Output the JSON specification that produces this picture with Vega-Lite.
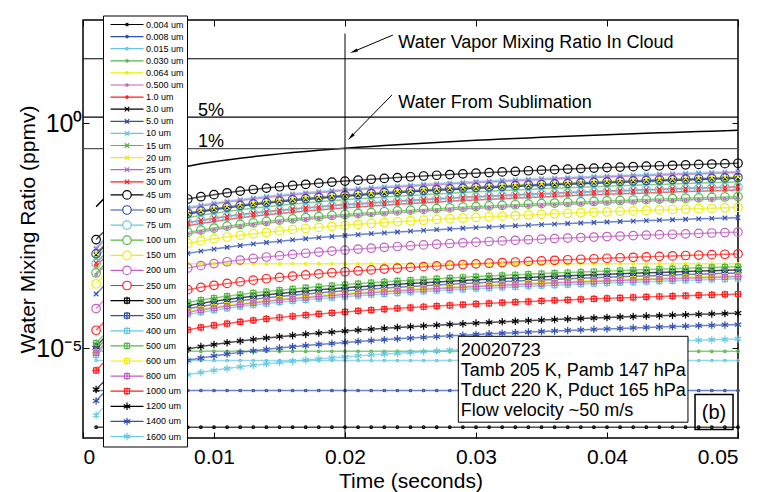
{
"$schema":"https://vega.github.io/schema/vega-lite/v6.json",
"width":655,"height":418,
"autosize":{"type":"none"},
"padding":{"left":83,"top":20,"right":23,"bottom":54},
"config":{"font":"Liberation Sans","view":{"stroke":"black","strokeWidth":1.5},
"axis":{"grid":false,"domain":false,"labelColor":"black","titleColor":"black","tickColor":"black","labelFont":"Liberation Sans","titleFont":"Liberation Sans","titleFontWeight":"normal"}},
"resolve":{"scale":{"color":"independent","shape":"independent"}},
"datasets":{
"main":[
{"s":"0.004 um","t":0.001,"v":1.74e-7},{"s":"0.004 um","t":0.002,"v":1.74e-7},{"s":"0.004 um","t":0.003,"v":1.74e-7},{"s":"0.004 um","t":0.004,"v":1.74e-7},{"s":"0.004 um","t":0.005,"v":1.74e-7},{"s":"0.004 um","t":0.006,"v":1.74e-7},{"s":"0.004 um","t":0.007,"v":1.74e-7},{"s":"0.004 um","t":0.008,"v":1.74e-7},{"s":"0.004 um","t":0.009,"v":1.74e-7},{"s":"0.004 um","t":0.01,"v":1.74e-7},{"s":"0.004 um","t":0.011,"v":1.74e-7},{"s":"0.004 um","t":0.012,"v":1.74e-7},{"s":"0.004 um","t":0.013,"v":1.74e-7},{"s":"0.004 um","t":0.014,"v":1.74e-7},{"s":"0.004 um","t":0.015,"v":1.74e-7},{"s":"0.004 um","t":0.016,"v":1.74e-7},{"s":"0.004 um","t":0.017,"v":1.74e-7},{"s":"0.004 um","t":0.018,"v":1.74e-7},{"s":"0.004 um","t":0.019,"v":1.74e-7},{"s":"0.004 um","t":0.02,"v":1.74e-7},{"s":"0.004 um","t":0.021,"v":1.74e-7},{"s":"0.004 um","t":0.022,"v":1.74e-7},{"s":"0.004 um","t":0.023,"v":1.74e-7},{"s":"0.004 um","t":0.024,"v":1.74e-7},{"s":"0.004 um","t":0.025,"v":1.74e-7},{"s":"0.004 um","t":0.026,"v":1.74e-7},{"s":"0.004 um","t":0.027,"v":1.74e-7},{"s":"0.004 um","t":0.028,"v":1.74e-7},{"s":"0.004 um","t":0.029,"v":1.74e-7},{"s":"0.004 um","t":0.03,"v":1.74e-7},{"s":"0.004 um","t":0.031,"v":1.74e-7},{"s":"0.004 um","t":0.032,"v":1.74e-7},{"s":"0.004 um","t":0.033,"v":1.74e-7},{"s":"0.004 um","t":0.034,"v":1.74e-7},{"s":"0.004 um","t":0.035,"v":1.74e-7},{"s":"0.004 um","t":0.036,"v":1.74e-7},{"s":"0.004 um","t":0.037,"v":1.74e-7},{"s":"0.004 um","t":0.038,"v":1.74e-7},{"s":"0.004 um","t":0.039,"v":1.74e-7},{"s":"0.004 um","t":0.04,"v":1.74e-7},{"s":"0.004 um","t":0.041,"v":1.74e-7},{"s":"0.004 um","t":0.042,"v":1.74e-7},{"s":"0.004 um","t":0.043,"v":1.74e-7},{"s":"0.004 um","t":0.044,"v":1.74e-7},{"s":"0.004 um","t":0.045,"v":1.74e-7},{"s":"0.004 um","t":0.046,"v":1.74e-7},{"s":"0.004 um","t":0.047,"v":1.74e-7},{"s":"0.004 um","t":0.048,"v":1.74e-7},{"s":"0.004 um","t":0.049,"v":1.74e-7},{"s":"0.004 um","t":0.05,"v":1.74e-7},
{"s":"0.008 um","t":0.001,"v":1.14e-6},{"s":"0.008 um","t":0.002,"v":1.14e-6},{"s":"0.008 um","t":0.003,"v":1.14e-6},{"s":"0.008 um","t":0.004,"v":1.14e-6},{"s":"0.008 um","t":0.005,"v":1.14e-6},{"s":"0.008 um","t":0.006,"v":1.14e-6},{"s":"0.008 um","t":0.007,"v":1.14e-6},{"s":"0.008 um","t":0.008,"v":1.14e-6},{"s":"0.008 um","t":0.009,"v":1.14e-6},{"s":"0.008 um","t":0.01,"v":1.14e-6},{"s":"0.008 um","t":0.011,"v":1.14e-6},{"s":"0.008 um","t":0.012,"v":1.14e-6},{"s":"0.008 um","t":0.013,"v":1.14e-6},{"s":"0.008 um","t":0.014,"v":1.14e-6},{"s":"0.008 um","t":0.015,"v":1.14e-6},{"s":"0.008 um","t":0.016,"v":1.14e-6},{"s":"0.008 um","t":0.017,"v":1.14e-6},{"s":"0.008 um","t":0.018,"v":1.14e-6},{"s":"0.008 um","t":0.019,"v":1.14e-6},{"s":"0.008 um","t":0.02,"v":1.14e-6},{"s":"0.008 um","t":0.021,"v":1.14e-6},{"s":"0.008 um","t":0.022,"v":1.14e-6},{"s":"0.008 um","t":0.023,"v":1.14e-6},{"s":"0.008 um","t":0.024,"v":1.14e-6},{"s":"0.008 um","t":0.025,"v":1.14e-6},{"s":"0.008 um","t":0.026,"v":1.14e-6},{"s":"0.008 um","t":0.027,"v":1.14e-6},{"s":"0.008 um","t":0.028,"v":1.14e-6},{"s":"0.008 um","t":0.029,"v":1.14e-6},{"s":"0.008 um","t":0.03,"v":1.14e-6},{"s":"0.008 um","t":0.031,"v":1.14e-6},{"s":"0.008 um","t":0.032,"v":1.14e-6},{"s":"0.008 um","t":0.033,"v":1.14e-6},{"s":"0.008 um","t":0.034,"v":1.14e-6},{"s":"0.008 um","t":0.035,"v":1.14e-6},{"s":"0.008 um","t":0.036,"v":1.14e-6},{"s":"0.008 um","t":0.037,"v":1.14e-6},{"s":"0.008 um","t":0.038,"v":1.14e-6},{"s":"0.008 um","t":0.039,"v":1.14e-6},{"s":"0.008 um","t":0.04,"v":1.14e-6},{"s":"0.008 um","t":0.041,"v":1.14e-6},{"s":"0.008 um","t":0.042,"v":1.14e-6},{"s":"0.008 um","t":0.043,"v":1.14e-6},{"s":"0.008 um","t":0.044,"v":1.14e-6},{"s":"0.008 um","t":0.045,"v":1.14e-6},{"s":"0.008 um","t":0.046,"v":1.14e-6},{"s":"0.008 um","t":0.047,"v":1.14e-6},{"s":"0.008 um","t":0.048,"v":1.14e-6},{"s":"0.008 um","t":0.049,"v":1.14e-6},{"s":"0.008 um","t":0.05,"v":1.14e-6},
{"s":"0.015 um","t":0.001,"v":5.3e-6},{"s":"0.015 um","t":0.002,"v":5.3e-6},{"s":"0.015 um","t":0.003,"v":5.3e-6},{"s":"0.015 um","t":0.004,"v":5.3e-6},{"s":"0.015 um","t":0.005,"v":5.3e-6},{"s":"0.015 um","t":0.006,"v":5.3e-6},{"s":"0.015 um","t":0.007,"v":5.3e-6},{"s":"0.015 um","t":0.008,"v":5.3e-6},{"s":"0.015 um","t":0.009,"v":5.3e-6},{"s":"0.015 um","t":0.01,"v":5.3e-6},{"s":"0.015 um","t":0.011,"v":5.3e-6},{"s":"0.015 um","t":0.012,"v":5.3e-6},{"s":"0.015 um","t":0.013,"v":5.3e-6},{"s":"0.015 um","t":0.014,"v":5.3e-6},{"s":"0.015 um","t":0.015,"v":5.3e-6},{"s":"0.015 um","t":0.016,"v":5.3e-6},{"s":"0.015 um","t":0.017,"v":5.3e-6},{"s":"0.015 um","t":0.018,"v":5.3e-6},{"s":"0.015 um","t":0.019,"v":5.3e-6},{"s":"0.015 um","t":0.02,"v":5.3e-6},{"s":"0.015 um","t":0.021,"v":5.3e-6},{"s":"0.015 um","t":0.022,"v":5.3e-6},{"s":"0.015 um","t":0.023,"v":5.3e-6},{"s":"0.015 um","t":0.024,"v":5.3e-6},{"s":"0.015 um","t":0.025,"v":5.3e-6},{"s":"0.015 um","t":0.026,"v":5.3e-6},{"s":"0.015 um","t":0.027,"v":5.3e-6},{"s":"0.015 um","t":0.028,"v":5.3e-6},{"s":"0.015 um","t":0.029,"v":5.3e-6},{"s":"0.015 um","t":0.03,"v":5.3e-6},{"s":"0.015 um","t":0.031,"v":5.3e-6},{"s":"0.015 um","t":0.032,"v":5.3e-6},{"s":"0.015 um","t":0.033,"v":5.3e-6},{"s":"0.015 um","t":0.034,"v":5.3e-6},{"s":"0.015 um","t":0.035,"v":5.3e-6},{"s":"0.015 um","t":0.036,"v":5.3e-6},{"s":"0.015 um","t":0.037,"v":5.3e-6},{"s":"0.015 um","t":0.038,"v":5.3e-6},{"s":"0.015 um","t":0.039,"v":5.3e-6},{"s":"0.015 um","t":0.04,"v":5.3e-6},{"s":"0.015 um","t":0.041,"v":5.3e-6},{"s":"0.015 um","t":0.042,"v":5.3e-6},{"s":"0.015 um","t":0.043,"v":5.3e-6},{"s":"0.015 um","t":0.044,"v":5.3e-6},{"s":"0.015 um","t":0.045,"v":5.3e-6},{"s":"0.015 um","t":0.046,"v":5.3e-6},{"s":"0.015 um","t":0.047,"v":5.3e-6},{"s":"0.015 um","t":0.048,"v":5.3e-6},{"s":"0.015 um","t":0.049,"v":5.3e-6},{"s":"0.015 um","t":0.05,"v":5.3e-6},
{"s":"0.030 um","t":0.001,"v":8.5e-6},{"s":"0.030 um","t":0.002,"v":8.5e-6},{"s":"0.030 um","t":0.003,"v":8.5e-6},{"s":"0.030 um","t":0.004,"v":8.5e-6},{"s":"0.030 um","t":0.005,"v":8.5e-6},{"s":"0.030 um","t":0.006,"v":8.5e-6},{"s":"0.030 um","t":0.007,"v":8.5e-6},{"s":"0.030 um","t":0.008,"v":8.5e-6},{"s":"0.030 um","t":0.009,"v":8.5e-6},{"s":"0.030 um","t":0.01,"v":8.5e-6},{"s":"0.030 um","t":0.011,"v":8.5e-6},{"s":"0.030 um","t":0.012,"v":8.5e-6},{"s":"0.030 um","t":0.013,"v":8.5e-6},{"s":"0.030 um","t":0.014,"v":8.5e-6},{"s":"0.030 um","t":0.015,"v":8.5e-6},{"s":"0.030 um","t":0.016,"v":8.5e-6},{"s":"0.030 um","t":0.017,"v":8.5e-6},{"s":"0.030 um","t":0.018,"v":8.5e-6},{"s":"0.030 um","t":0.019,"v":8.5e-6},{"s":"0.030 um","t":0.02,"v":8.5e-6},{"s":"0.030 um","t":0.021,"v":8.5e-6},{"s":"0.030 um","t":0.022,"v":8.5e-6},{"s":"0.030 um","t":0.023,"v":8.5e-6},{"s":"0.030 um","t":0.024,"v":8.5e-6},{"s":"0.030 um","t":0.025,"v":8.5e-6},{"s":"0.030 um","t":0.026,"v":8.5e-6},{"s":"0.030 um","t":0.027,"v":8.5e-6},{"s":"0.030 um","t":0.028,"v":8.5e-6},{"s":"0.030 um","t":0.029,"v":8.5e-6},{"s":"0.030 um","t":0.03,"v":8.5e-6},{"s":"0.030 um","t":0.031,"v":8.5e-6},{"s":"0.030 um","t":0.032,"v":8.5e-6},{"s":"0.030 um","t":0.033,"v":8.5e-6},{"s":"0.030 um","t":0.034,"v":8.5e-6},{"s":"0.030 um","t":0.035,"v":8.5e-6},{"s":"0.030 um","t":0.036,"v":8.5e-6},{"s":"0.030 um","t":0.037,"v":8.5e-6},{"s":"0.030 um","t":0.038,"v":8.5e-6},{"s":"0.030 um","t":0.039,"v":8.5e-6},{"s":"0.030 um","t":0.04,"v":8.5e-6},{"s":"0.030 um","t":0.041,"v":8.5e-6},{"s":"0.030 um","t":0.042,"v":8.5e-6},{"s":"0.030 um","t":0.043,"v":8.5e-6},{"s":"0.030 um","t":0.044,"v":8.5e-6},{"s":"0.030 um","t":0.045,"v":8.5e-6},{"s":"0.030 um","t":0.046,"v":8.5e-6},{"s":"0.030 um","t":0.047,"v":8.5e-6},{"s":"0.030 um","t":0.048,"v":8.5e-6},{"s":"0.030 um","t":0.049,"v":8.5e-6},{"s":"0.030 um","t":0.05,"v":8.5e-6},
{"s":"0.064 um","t":0.001,"v":7.5e-4},{"s":"0.064 um","t":0.002,"v":7.5e-4},{"s":"0.064 um","t":0.003,"v":7.5e-4},{"s":"0.064 um","t":0.004,"v":7.5e-4},{"s":"0.064 um","t":0.005,"v":7.5e-4},{"s":"0.064 um","t":0.006,"v":7.5e-4},{"s":"0.064 um","t":0.007,"v":7.5e-4},{"s":"0.064 um","t":0.008,"v":7.5e-4},{"s":"0.064 um","t":0.009,"v":7.5e-4},{"s":"0.064 um","t":0.01,"v":7.5e-4},{"s":"0.064 um","t":0.011,"v":7.5e-4},{"s":"0.064 um","t":0.012,"v":7.5e-4},{"s":"0.064 um","t":0.013,"v":7.5e-4},{"s":"0.064 um","t":0.014,"v":7.5e-4},{"s":"0.064 um","t":0.015,"v":7.5e-4},{"s":"0.064 um","t":0.016,"v":7.5e-4},{"s":"0.064 um","t":0.017,"v":7.5e-4},{"s":"0.064 um","t":0.018,"v":7.5e-4},{"s":"0.064 um","t":0.019,"v":7.5e-4},{"s":"0.064 um","t":0.02,"v":7.5e-4},{"s":"0.064 um","t":0.021,"v":7.5e-4},{"s":"0.064 um","t":0.022,"v":7.5e-4},{"s":"0.064 um","t":0.023,"v":7.5e-4},{"s":"0.064 um","t":0.024,"v":7.5e-4},{"s":"0.064 um","t":0.025,"v":7.5e-4},{"s":"0.064 um","t":0.026,"v":7.5e-4},{"s":"0.064 um","t":0.027,"v":7.5e-4},{"s":"0.064 um","t":0.028,"v":7.5e-4},{"s":"0.064 um","t":0.029,"v":7.5e-4},{"s":"0.064 um","t":0.03,"v":7.5e-4},{"s":"0.064 um","t":0.031,"v":7.5e-4},{"s":"0.064 um","t":0.032,"v":7.5e-4},{"s":"0.064 um","t":0.033,"v":7.5e-4},{"s":"0.064 um","t":0.034,"v":7.5e-4},{"s":"0.064 um","t":0.035,"v":7.5e-4},{"s":"0.064 um","t":0.036,"v":7.5e-4},{"s":"0.064 um","t":0.037,"v":7.5e-4},{"s":"0.064 um","t":0.038,"v":7.5e-4},{"s":"0.064 um","t":0.039,"v":7.5e-4},{"s":"0.064 um","t":0.04,"v":7.5e-4},{"s":"0.064 um","t":0.041,"v":7.5e-4},{"s":"0.064 um","t":0.042,"v":7.5e-4},{"s":"0.064 um","t":0.043,"v":7.5e-4},{"s":"0.064 um","t":0.044,"v":7.5e-4},{"s":"0.064 um","t":0.045,"v":7.5e-4},{"s":"0.064 um","t":0.046,"v":7.5e-4},{"s":"0.064 um","t":0.047,"v":7.5e-4},{"s":"0.064 um","t":0.048,"v":7.5e-4},{"s":"0.064 um","t":0.049,"v":7.5e-4},{"s":"0.064 um","t":0.05,"v":7.5e-4},
{"s":"0.500 um","t":0.001,"v":43e-5},{"s":"0.500 um","t":0.002,"v":86e-5},{"s":"0.500 um","t":0.003,"v":129e-5},{"s":"0.500 um","t":0.004,"v":172e-5},{"s":"0.500 um","t":0.005,"v":215e-5},{"s":"0.500 um","t":0.006,"v":258e-5},{"s":"0.500 um","t":0.007,"v":301e-5},{"s":"0.500 um","t":0.008,"v":344e-5},{"s":"0.500 um","t":0.009,"v":387e-5},{"s":"0.500 um","t":0.01,"v":430e-5},{"s":"0.500 um","t":0.011,"v":473e-5},{"s":"0.500 um","t":0.012,"v":516e-5},{"s":"0.500 um","t":0.013,"v":559e-5},{"s":"0.500 um","t":0.014,"v":602e-5},{"s":"0.500 um","t":0.015,"v":645e-5},{"s":"0.500 um","t":0.016,"v":688e-5},{"s":"0.500 um","t":0.017,"v":731e-5},{"s":"0.500 um","t":0.018,"v":774e-5},{"s":"0.500 um","t":0.019,"v":817e-5},{"s":"0.500 um","t":0.02,"v":860e-5},{"s":"0.500 um","t":0.021,"v":903e-5},{"s":"0.500 um","t":0.022,"v":946e-5},{"s":"0.500 um","t":0.023,"v":989e-5},{"s":"0.500 um","t":0.024,"v":1032e-5},{"s":"0.500 um","t":0.025,"v":1075e-5},{"s":"0.500 um","t":0.026,"v":1118e-5},{"s":"0.500 um","t":0.027,"v":1161e-5},{"s":"0.500 um","t":0.028,"v":1204e-5},{"s":"0.500 um","t":0.029,"v":1247e-5},{"s":"0.500 um","t":0.03,"v":1290e-5},{"s":"0.500 um","t":0.031,"v":1333e-5},{"s":"0.500 um","t":0.032,"v":1376e-5},{"s":"0.500 um","t":0.033,"v":1419e-5},{"s":"0.500 um","t":0.034,"v":1462e-5},{"s":"0.500 um","t":0.035,"v":1505e-5},{"s":"0.500 um","t":0.036,"v":1548e-5},{"s":"0.500 um","t":0.037,"v":1591e-5},{"s":"0.500 um","t":0.038,"v":1634e-5},{"s":"0.500 um","t":0.039,"v":1677e-5},{"s":"0.500 um","t":0.04,"v":1720e-5},{"s":"0.500 um","t":0.041,"v":1763e-5},{"s":"0.500 um","t":0.042,"v":1806e-5},{"s":"0.500 um","t":0.043,"v":1849e-5},{"s":"0.500 um","t":0.044,"v":1892e-5},{"s":"0.500 um","t":0.045,"v":1935e-5},{"s":"0.500 um","t":0.046,"v":1978e-5},{"s":"0.500 um","t":0.047,"v":2021e-5},{"s":"0.500 um","t":0.048,"v":2064e-5},{"s":"0.500 um","t":0.049,"v":2107e-5},{"s":"0.500 um","t":0.05,"v":2150e-5},
{"s":"1.0 um","t":0.001,"v":66e-5},{"s":"1.0 um","t":0.002,"v":132e-5},{"s":"1.0 um","t":0.003,"v":198e-5},{"s":"1.0 um","t":0.004,"v":264e-5},{"s":"1.0 um","t":0.005,"v":330e-5},{"s":"1.0 um","t":0.006,"v":396e-5},{"s":"1.0 um","t":0.007,"v":462e-5},{"s":"1.0 um","t":0.008,"v":528e-5},{"s":"1.0 um","t":0.009,"v":594e-5},{"s":"1.0 um","t":0.01,"v":660e-5},{"s":"1.0 um","t":0.011,"v":726e-5},{"s":"1.0 um","t":0.012,"v":792e-5},{"s":"1.0 um","t":0.013,"v":858e-5},{"s":"1.0 um","t":0.014,"v":924e-5},{"s":"1.0 um","t":0.015,"v":990e-5},{"s":"1.0 um","t":0.016,"v":1056e-5},{"s":"1.0 um","t":0.017,"v":1122e-5},{"s":"1.0 um","t":0.018,"v":1188e-5},{"s":"1.0 um","t":0.019,"v":1254e-5},{"s":"1.0 um","t":0.02,"v":1320e-5},{"s":"1.0 um","t":0.021,"v":1386e-5},{"s":"1.0 um","t":0.022,"v":1452e-5},{"s":"1.0 um","t":0.023,"v":1518e-5},{"s":"1.0 um","t":0.024,"v":1584e-5},{"s":"1.0 um","t":0.025,"v":1650e-5},{"s":"1.0 um","t":0.026,"v":1716e-5},{"s":"1.0 um","t":0.027,"v":1782e-5},{"s":"1.0 um","t":0.028,"v":1848e-5},{"s":"1.0 um","t":0.029,"v":1914e-5},{"s":"1.0 um","t":0.03,"v":1980e-5},{"s":"1.0 um","t":0.031,"v":2046e-5},{"s":"1.0 um","t":0.032,"v":2112e-5},{"s":"1.0 um","t":0.033,"v":2178e-5},{"s":"1.0 um","t":0.034,"v":2244e-5},{"s":"1.0 um","t":0.035,"v":2310e-5},{"s":"1.0 um","t":0.036,"v":2376e-5},{"s":"1.0 um","t":0.037,"v":2442e-5},{"s":"1.0 um","t":0.038,"v":2508e-5},{"s":"1.0 um","t":0.039,"v":2574e-5},{"s":"1.0 um","t":0.04,"v":2640e-5},{"s":"1.0 um","t":0.041,"v":2706e-5},{"s":"1.0 um","t":0.042,"v":2772e-5},{"s":"1.0 um","t":0.043,"v":2838e-5},{"s":"1.0 um","t":0.044,"v":2904e-5},{"s":"1.0 um","t":0.045,"v":2970e-5},{"s":"1.0 um","t":0.046,"v":3036e-5},{"s":"1.0 um","t":0.047,"v":3102e-5},{"s":"1.0 um","t":0.048,"v":3168e-5},{"s":"1.0 um","t":0.049,"v":3234e-5},{"s":"1.0 um","t":0.05,"v":3300e-5},
{"s":"3.0 um","t":0.001,"v":12e-4},{"s":"3.0 um","t":0.002,"v":24e-4},{"s":"3.0 um","t":0.003,"v":36e-4},{"s":"3.0 um","t":0.004,"v":48e-4},{"s":"3.0 um","t":0.005,"v":60e-4},{"s":"3.0 um","t":0.006,"v":72e-4},{"s":"3.0 um","t":0.007,"v":84e-4},{"s":"3.0 um","t":0.008,"v":96e-4},{"s":"3.0 um","t":0.009,"v":108e-4},{"s":"3.0 um","t":0.01,"v":120e-4},{"s":"3.0 um","t":0.011,"v":132e-4},{"s":"3.0 um","t":0.012,"v":144e-4},{"s":"3.0 um","t":0.013,"v":156e-4},{"s":"3.0 um","t":0.014,"v":168e-4},{"s":"3.0 um","t":0.015,"v":180e-4},{"s":"3.0 um","t":0.016,"v":192e-4},{"s":"3.0 um","t":0.017,"v":204e-4},{"s":"3.0 um","t":0.018,"v":216e-4},{"s":"3.0 um","t":0.019,"v":228e-4},{"s":"3.0 um","t":0.02,"v":240e-4},{"s":"3.0 um","t":0.021,"v":252e-4},{"s":"3.0 um","t":0.022,"v":264e-4},{"s":"3.0 um","t":0.023,"v":276e-4},{"s":"3.0 um","t":0.024,"v":288e-4},{"s":"3.0 um","t":0.025,"v":300e-4},{"s":"3.0 um","t":0.026,"v":312e-4},{"s":"3.0 um","t":0.027,"v":324e-4},{"s":"3.0 um","t":0.028,"v":336e-4},{"s":"3.0 um","t":0.029,"v":348e-4},{"s":"3.0 um","t":0.03,"v":360e-4},{"s":"3.0 um","t":0.031,"v":372e-4},{"s":"3.0 um","t":0.032,"v":384e-4},{"s":"3.0 um","t":0.033,"v":396e-4},{"s":"3.0 um","t":0.034,"v":408e-4},{"s":"3.0 um","t":0.035,"v":420e-4},{"s":"3.0 um","t":0.036,"v":432e-4},{"s":"3.0 um","t":0.037,"v":444e-4},{"s":"3.0 um","t":0.038,"v":456e-4},{"s":"3.0 um","t":0.039,"v":468e-4},{"s":"3.0 um","t":0.04,"v":480e-4},{"s":"3.0 um","t":0.041,"v":492e-4},{"s":"3.0 um","t":0.042,"v":504e-4},{"s":"3.0 um","t":0.043,"v":516e-4},{"s":"3.0 um","t":0.044,"v":528e-4},{"s":"3.0 um","t":0.045,"v":540e-4},{"s":"3.0 um","t":0.046,"v":552e-4},{"s":"3.0 um","t":0.047,"v":564e-4},{"s":"3.0 um","t":0.048,"v":576e-4},{"s":"3.0 um","t":0.049,"v":588e-4},{"s":"3.0 um","t":0.05,"v":600e-4},
{"s":"5.0 um","t":0.001,"v":16e-5},{"s":"5.0 um","t":0.002,"v":32e-5},{"s":"5.0 um","t":0.003,"v":48e-5},{"s":"5.0 um","t":0.004,"v":64e-5},{"s":"5.0 um","t":0.005,"v":80e-5},{"s":"5.0 um","t":0.006,"v":96e-5},{"s":"5.0 um","t":0.007,"v":112e-5},{"s":"5.0 um","t":0.008,"v":128e-5},{"s":"5.0 um","t":0.009,"v":144e-5},{"s":"5.0 um","t":0.01,"v":160e-5},{"s":"5.0 um","t":0.011,"v":176e-5},{"s":"5.0 um","t":0.012,"v":192e-5},{"s":"5.0 um","t":0.013,"v":208e-5},{"s":"5.0 um","t":0.014,"v":224e-5},{"s":"5.0 um","t":0.015,"v":240e-5},{"s":"5.0 um","t":0.016,"v":256e-5},{"s":"5.0 um","t":0.017,"v":272e-5},{"s":"5.0 um","t":0.018,"v":288e-5},{"s":"5.0 um","t":0.019,"v":304e-5},{"s":"5.0 um","t":0.02,"v":320e-5},{"s":"5.0 um","t":0.021,"v":336e-5},{"s":"5.0 um","t":0.022,"v":352e-5},{"s":"5.0 um","t":0.023,"v":368e-5},{"s":"5.0 um","t":0.024,"v":384e-5},{"s":"5.0 um","t":0.025,"v":400e-5},{"s":"5.0 um","t":0.026,"v":416e-5},{"s":"5.0 um","t":0.027,"v":432e-5},{"s":"5.0 um","t":0.028,"v":448e-5},{"s":"5.0 um","t":0.029,"v":464e-5},{"s":"5.0 um","t":0.03,"v":480e-5},{"s":"5.0 um","t":0.031,"v":496e-5},{"s":"5.0 um","t":0.032,"v":512e-5},{"s":"5.0 um","t":0.033,"v":528e-5},{"s":"5.0 um","t":0.034,"v":544e-5},{"s":"5.0 um","t":0.035,"v":560e-5},{"s":"5.0 um","t":0.036,"v":576e-5},{"s":"5.0 um","t":0.037,"v":592e-5},{"s":"5.0 um","t":0.038,"v":608e-5},{"s":"5.0 um","t":0.039,"v":624e-5},{"s":"5.0 um","t":0.04,"v":640e-5},{"s":"5.0 um","t":0.041,"v":656e-5},{"s":"5.0 um","t":0.042,"v":672e-5},{"s":"5.0 um","t":0.043,"v":688e-5},{"s":"5.0 um","t":0.044,"v":704e-5},{"s":"5.0 um","t":0.045,"v":720e-5},{"s":"5.0 um","t":0.046,"v":736e-5},{"s":"5.0 um","t":0.047,"v":752e-5},{"s":"5.0 um","t":0.048,"v":768e-5},{"s":"5.0 um","t":0.049,"v":784e-5},{"s":"5.0 um","t":0.05,"v":800e-5},
{"s":"10 um","t":0.001,"v":17e-4},{"s":"10 um","t":0.002,"v":34e-4},{"s":"10 um","t":0.003,"v":51e-4},{"s":"10 um","t":0.004,"v":68e-4},{"s":"10 um","t":0.005,"v":85e-4},{"s":"10 um","t":0.006,"v":102e-4},{"s":"10 um","t":0.007,"v":119e-4},{"s":"10 um","t":0.008,"v":136e-4},{"s":"10 um","t":0.009,"v":153e-4},{"s":"10 um","t":0.01,"v":170e-4},{"s":"10 um","t":0.011,"v":187e-4},{"s":"10 um","t":0.012,"v":204e-4},{"s":"10 um","t":0.013,"v":221e-4},{"s":"10 um","t":0.014,"v":238e-4},{"s":"10 um","t":0.015,"v":255e-4},{"s":"10 um","t":0.016,"v":272e-4},{"s":"10 um","t":0.017,"v":289e-4},{"s":"10 um","t":0.018,"v":306e-4},{"s":"10 um","t":0.019,"v":323e-4},{"s":"10 um","t":0.02,"v":340e-4},{"s":"10 um","t":0.021,"v":357e-4},{"s":"10 um","t":0.022,"v":374e-4},{"s":"10 um","t":0.023,"v":391e-4},{"s":"10 um","t":0.024,"v":408e-4},{"s":"10 um","t":0.025,"v":425e-4},{"s":"10 um","t":0.026,"v":442e-4},{"s":"10 um","t":0.027,"v":459e-4},{"s":"10 um","t":0.028,"v":476e-4},{"s":"10 um","t":0.029,"v":493e-4},{"s":"10 um","t":0.03,"v":510e-4},{"s":"10 um","t":0.031,"v":527e-4},{"s":"10 um","t":0.032,"v":544e-4},{"s":"10 um","t":0.033,"v":561e-4},{"s":"10 um","t":0.034,"v":578e-4},{"s":"10 um","t":0.035,"v":595e-4},{"s":"10 um","t":0.036,"v":612e-4},{"s":"10 um","t":0.037,"v":629e-4},{"s":"10 um","t":0.038,"v":646e-4},{"s":"10 um","t":0.039,"v":663e-4},{"s":"10 um","t":0.04,"v":680e-4},{"s":"10 um","t":0.041,"v":697e-4},{"s":"10 um","t":0.042,"v":714e-4},{"s":"10 um","t":0.043,"v":731e-4},{"s":"10 um","t":0.044,"v":748e-4},{"s":"10 um","t":0.045,"v":765e-4},{"s":"10 um","t":0.046,"v":782e-4},{"s":"10 um","t":0.047,"v":799e-4},{"s":"10 um","t":0.048,"v":816e-4},{"s":"10 um","t":0.049,"v":833e-4},{"s":"10 um","t":0.05,"v":850e-4},
{"s":"15 um","t":0.001,"v":1e-3},{"s":"15 um","t":0.002,"v":2e-3},{"s":"15 um","t":0.003,"v":3e-3},{"s":"15 um","t":0.004,"v":4e-3},{"s":"15 um","t":0.005,"v":5e-3},{"s":"15 um","t":0.006,"v":6e-3},{"s":"15 um","t":0.007,"v":7e-3},{"s":"15 um","t":0.008,"v":8e-3},{"s":"15 um","t":0.009,"v":9e-3},{"s":"15 um","t":0.01,"v":10e-3},{"s":"15 um","t":0.011,"v":11e-3},{"s":"15 um","t":0.012,"v":12e-3},{"s":"15 um","t":0.013,"v":13e-3},{"s":"15 um","t":0.014,"v":14e-3},{"s":"15 um","t":0.015,"v":15e-3},{"s":"15 um","t":0.016,"v":16e-3},{"s":"15 um","t":0.017,"v":17e-3},{"s":"15 um","t":0.018,"v":18e-3},{"s":"15 um","t":0.019,"v":19e-3},{"s":"15 um","t":0.02,"v":20e-3},{"s":"15 um","t":0.021,"v":21e-3},{"s":"15 um","t":0.022,"v":22e-3},{"s":"15 um","t":0.023,"v":23e-3},{"s":"15 um","t":0.024,"v":24e-3},{"s":"15 um","t":0.025,"v":25e-3},{"s":"15 um","t":0.026,"v":26e-3},{"s":"15 um","t":0.027,"v":27e-3},{"s":"15 um","t":0.028,"v":28e-3},{"s":"15 um","t":0.029,"v":29e-3},{"s":"15 um","t":0.03,"v":30e-3},{"s":"15 um","t":0.031,"v":31e-3},{"s":"15 um","t":0.032,"v":32e-3},{"s":"15 um","t":0.033,"v":33e-3},{"s":"15 um","t":0.034,"v":34e-3},{"s":"15 um","t":0.035,"v":35e-3},{"s":"15 um","t":0.036,"v":36e-3},{"s":"15 um","t":0.037,"v":37e-3},{"s":"15 um","t":0.038,"v":38e-3},{"s":"15 um","t":0.039,"v":39e-3},{"s":"15 um","t":0.04,"v":40e-3},{"s":"15 um","t":0.041,"v":41e-3},{"s":"15 um","t":0.042,"v":42e-3},{"s":"15 um","t":0.043,"v":43e-3},{"s":"15 um","t":0.044,"v":44e-3},{"s":"15 um","t":0.045,"v":45e-3},{"s":"15 um","t":0.046,"v":46e-3},{"s":"15 um","t":0.047,"v":47e-3},{"s":"15 um","t":0.048,"v":48e-3},{"s":"15 um","t":0.049,"v":49e-3},{"s":"15 um","t":0.05,"v":50e-3},
{"s":"20 um","t":0.001,"v":13e-4},{"s":"20 um","t":0.002,"v":26e-4},{"s":"20 um","t":0.003,"v":39e-4},{"s":"20 um","t":0.004,"v":52e-4},{"s":"20 um","t":0.005,"v":65e-4},{"s":"20 um","t":0.006,"v":78e-4},{"s":"20 um","t":0.007,"v":91e-4},{"s":"20 um","t":0.008,"v":104e-4},{"s":"20 um","t":0.009,"v":117e-4},{"s":"20 um","t":0.01,"v":130e-4},{"s":"20 um","t":0.011,"v":143e-4},{"s":"20 um","t":0.012,"v":156e-4},{"s":"20 um","t":0.013,"v":169e-4},{"s":"20 um","t":0.014,"v":182e-4},{"s":"20 um","t":0.015,"v":195e-4},{"s":"20 um","t":0.016,"v":208e-4},{"s":"20 um","t":0.017,"v":221e-4},{"s":"20 um","t":0.018,"v":234e-4},{"s":"20 um","t":0.019,"v":247e-4},{"s":"20 um","t":0.02,"v":260e-4},{"s":"20 um","t":0.021,"v":273e-4},{"s":"20 um","t":0.022,"v":286e-4},{"s":"20 um","t":0.023,"v":299e-4},{"s":"20 um","t":0.024,"v":312e-4},{"s":"20 um","t":0.025,"v":325e-4},{"s":"20 um","t":0.026,"v":338e-4},{"s":"20 um","t":0.027,"v":351e-4},{"s":"20 um","t":0.028,"v":364e-4},{"s":"20 um","t":0.029,"v":377e-4},{"s":"20 um","t":0.03,"v":390e-4},{"s":"20 um","t":0.031,"v":403e-4},{"s":"20 um","t":0.032,"v":416e-4},{"s":"20 um","t":0.033,"v":429e-4},{"s":"20 um","t":0.034,"v":442e-4},{"s":"20 um","t":0.035,"v":455e-4},{"s":"20 um","t":0.036,"v":468e-4},{"s":"20 um","t":0.037,"v":481e-4},{"s":"20 um","t":0.038,"v":494e-4},{"s":"20 um","t":0.039,"v":507e-4},{"s":"20 um","t":0.04,"v":520e-4},{"s":"20 um","t":0.041,"v":533e-4},{"s":"20 um","t":0.042,"v":546e-4},{"s":"20 um","t":0.043,"v":559e-4},{"s":"20 um","t":0.044,"v":572e-4},{"s":"20 um","t":0.045,"v":585e-4},{"s":"20 um","t":0.046,"v":598e-4},{"s":"20 um","t":0.047,"v":611e-4},{"s":"20 um","t":0.048,"v":624e-4},{"s":"20 um","t":0.049,"v":637e-4},{"s":"20 um","t":0.05,"v":650e-4},
{"s":"25 um","t":0.001,"v":16e-4},{"s":"25 um","t":0.002,"v":32e-4},{"s":"25 um","t":0.003,"v":48e-4},{"s":"25 um","t":0.004,"v":64e-4},{"s":"25 um","t":0.005,"v":80e-4},{"s":"25 um","t":0.006,"v":96e-4},{"s":"25 um","t":0.007,"v":112e-4},{"s":"25 um","t":0.008,"v":128e-4},{"s":"25 um","t":0.009,"v":144e-4},{"s":"25 um","t":0.01,"v":160e-4},{"s":"25 um","t":0.011,"v":176e-4},{"s":"25 um","t":0.012,"v":192e-4},{"s":"25 um","t":0.013,"v":208e-4},{"s":"25 um","t":0.014,"v":224e-4},{"s":"25 um","t":0.015,"v":240e-4},{"s":"25 um","t":0.016,"v":256e-4},{"s":"25 um","t":0.017,"v":272e-4},{"s":"25 um","t":0.018,"v":288e-4},{"s":"25 um","t":0.019,"v":304e-4},{"s":"25 um","t":0.02,"v":320e-4},{"s":"25 um","t":0.021,"v":336e-4},{"s":"25 um","t":0.022,"v":352e-4},{"s":"25 um","t":0.023,"v":368e-4},{"s":"25 um","t":0.024,"v":384e-4},{"s":"25 um","t":0.025,"v":400e-4},{"s":"25 um","t":0.026,"v":416e-4},{"s":"25 um","t":0.027,"v":432e-4},{"s":"25 um","t":0.028,"v":448e-4},{"s":"25 um","t":0.029,"v":464e-4},{"s":"25 um","t":0.03,"v":480e-4},{"s":"25 um","t":0.031,"v":496e-4},{"s":"25 um","t":0.032,"v":512e-4},{"s":"25 um","t":0.033,"v":528e-4},{"s":"25 um","t":0.034,"v":544e-4},{"s":"25 um","t":0.035,"v":560e-4},{"s":"25 um","t":0.036,"v":576e-4},{"s":"25 um","t":0.037,"v":592e-4},{"s":"25 um","t":0.038,"v":608e-4},{"s":"25 um","t":0.039,"v":624e-4},{"s":"25 um","t":0.04,"v":640e-4},{"s":"25 um","t":0.041,"v":656e-4},{"s":"25 um","t":0.042,"v":672e-4},{"s":"25 um","t":0.043,"v":688e-4},{"s":"25 um","t":0.044,"v":704e-4},{"s":"25 um","t":0.045,"v":720e-4},{"s":"25 um","t":0.046,"v":736e-4},{"s":"25 um","t":0.047,"v":752e-4},{"s":"25 um","t":0.048,"v":768e-4},{"s":"25 um","t":0.049,"v":784e-4},{"s":"25 um","t":0.05,"v":800e-4},
{"s":"30 um","t":0.001,"v":78e-5},{"s":"30 um","t":0.002,"v":156e-5},{"s":"30 um","t":0.003,"v":234e-5},{"s":"30 um","t":0.004,"v":312e-5},{"s":"30 um","t":0.005,"v":390e-5},{"s":"30 um","t":0.006,"v":468e-5},{"s":"30 um","t":0.007,"v":546e-5},{"s":"30 um","t":0.008,"v":624e-5},{"s":"30 um","t":0.009,"v":702e-5},{"s":"30 um","t":0.01,"v":780e-5},{"s":"30 um","t":0.011,"v":858e-5},{"s":"30 um","t":0.012,"v":936e-5},{"s":"30 um","t":0.013,"v":1014e-5},{"s":"30 um","t":0.014,"v":1092e-5},{"s":"30 um","t":0.015,"v":1170e-5},{"s":"30 um","t":0.016,"v":1248e-5},{"s":"30 um","t":0.017,"v":1326e-5},{"s":"30 um","t":0.018,"v":1404e-5},{"s":"30 um","t":0.019,"v":1482e-5},{"s":"30 um","t":0.02,"v":1560e-5},{"s":"30 um","t":0.021,"v":1638e-5},{"s":"30 um","t":0.022,"v":1716e-5},{"s":"30 um","t":0.023,"v":1794e-5},{"s":"30 um","t":0.024,"v":1872e-5},{"s":"30 um","t":0.025,"v":1950e-5},{"s":"30 um","t":0.026,"v":2028e-5},{"s":"30 um","t":0.027,"v":2106e-5},{"s":"30 um","t":0.028,"v":2184e-5},{"s":"30 um","t":0.029,"v":2262e-5},{"s":"30 um","t":0.03,"v":2340e-5},{"s":"30 um","t":0.031,"v":2418e-5},{"s":"30 um","t":0.032,"v":2496e-5},{"s":"30 um","t":0.033,"v":2574e-5},{"s":"30 um","t":0.034,"v":2652e-5},{"s":"30 um","t":0.035,"v":2730e-5},{"s":"30 um","t":0.036,"v":2808e-5},{"s":"30 um","t":0.037,"v":2886e-5},{"s":"30 um","t":0.038,"v":2964e-5},{"s":"30 um","t":0.039,"v":3042e-5},{"s":"30 um","t":0.04,"v":3120e-5},{"s":"30 um","t":0.041,"v":3198e-5},{"s":"30 um","t":0.042,"v":3276e-5},{"s":"30 um","t":0.043,"v":3354e-5},{"s":"30 um","t":0.044,"v":3432e-5},{"s":"30 um","t":0.045,"v":3510e-5},{"s":"30 um","t":0.046,"v":3588e-5},{"s":"30 um","t":0.047,"v":3666e-5},{"s":"30 um","t":0.048,"v":3744e-5},{"s":"30 um","t":0.049,"v":3822e-5},{"s":"30 um","t":0.05,"v":3900e-5},
{"s":"45 um","t":0.001,"v":26e-4},{"s":"45 um","t":0.002,"v":52e-4},{"s":"45 um","t":0.003,"v":78e-4},{"s":"45 um","t":0.004,"v":104e-4},{"s":"45 um","t":0.005,"v":130e-4},{"s":"45 um","t":0.006,"v":156e-4},{"s":"45 um","t":0.007,"v":182e-4},{"s":"45 um","t":0.008,"v":208e-4},{"s":"45 um","t":0.009,"v":234e-4},{"s":"45 um","t":0.01,"v":260e-4},{"s":"45 um","t":0.011,"v":286e-4},{"s":"45 um","t":0.012,"v":312e-4},{"s":"45 um","t":0.013,"v":338e-4},{"s":"45 um","t":0.014,"v":364e-4},{"s":"45 um","t":0.015,"v":390e-4},{"s":"45 um","t":0.016,"v":416e-4},{"s":"45 um","t":0.017,"v":442e-4},{"s":"45 um","t":0.018,"v":468e-4},{"s":"45 um","t":0.019,"v":494e-4},{"s":"45 um","t":0.02,"v":520e-4},{"s":"45 um","t":0.021,"v":546e-4},{"s":"45 um","t":0.022,"v":572e-4},{"s":"45 um","t":0.023,"v":598e-4},{"s":"45 um","t":0.024,"v":624e-4},{"s":"45 um","t":0.025,"v":650e-4},{"s":"45 um","t":0.026,"v":676e-4},{"s":"45 um","t":0.027,"v":702e-4},{"s":"45 um","t":0.028,"v":728e-4},{"s":"45 um","t":0.029,"v":754e-4},{"s":"45 um","t":0.03,"v":780e-4},{"s":"45 um","t":0.031,"v":806e-4},{"s":"45 um","t":0.032,"v":832e-4},{"s":"45 um","t":0.033,"v":858e-4},{"s":"45 um","t":0.034,"v":884e-4},{"s":"45 um","t":0.035,"v":910e-4},{"s":"45 um","t":0.036,"v":936e-4},{"s":"45 um","t":0.037,"v":962e-4},{"s":"45 um","t":0.038,"v":988e-4},{"s":"45 um","t":0.039,"v":1014e-4},{"s":"45 um","t":0.04,"v":1040e-4},{"s":"45 um","t":0.041,"v":1066e-4},{"s":"45 um","t":0.042,"v":1092e-4},{"s":"45 um","t":0.043,"v":1118e-4},{"s":"45 um","t":0.044,"v":1144e-4},{"s":"45 um","t":0.045,"v":1170e-4},{"s":"45 um","t":0.046,"v":1196e-4},{"s":"45 um","t":0.047,"v":1222e-4},{"s":"45 um","t":0.048,"v":1248e-4},{"s":"45 um","t":0.049,"v":1274e-4},{"s":"45 um","t":0.05,"v":1300e-4},
{"s":"60 um","t":0.001,"v":125e-5},{"s":"60 um","t":0.002,"v":250e-5},{"s":"60 um","t":0.003,"v":375e-5},{"s":"60 um","t":0.004,"v":500e-5},{"s":"60 um","t":0.005,"v":625e-5},{"s":"60 um","t":0.006,"v":750e-5},{"s":"60 um","t":0.007,"v":875e-5},{"s":"60 um","t":0.008,"v":1000e-5},{"s":"60 um","t":0.009,"v":1125e-5},{"s":"60 um","t":0.01,"v":1250e-5},{"s":"60 um","t":0.011,"v":1375e-5},{"s":"60 um","t":0.012,"v":1500e-5},{"s":"60 um","t":0.013,"v":1625e-5},{"s":"60 um","t":0.014,"v":1750e-5},{"s":"60 um","t":0.015,"v":1875e-5},{"s":"60 um","t":0.016,"v":2000e-5},{"s":"60 um","t":0.017,"v":2125e-5},{"s":"60 um","t":0.018,"v":2250e-5},{"s":"60 um","t":0.019,"v":2375e-5},{"s":"60 um","t":0.02,"v":2500e-5},{"s":"60 um","t":0.021,"v":2625e-5},{"s":"60 um","t":0.022,"v":2750e-5},{"s":"60 um","t":0.023,"v":2875e-5},{"s":"60 um","t":0.024,"v":3000e-5},{"s":"60 um","t":0.025,"v":3125e-5},{"s":"60 um","t":0.026,"v":3250e-5},{"s":"60 um","t":0.027,"v":3375e-5},{"s":"60 um","t":0.028,"v":3500e-5},{"s":"60 um","t":0.029,"v":3625e-5},{"s":"60 um","t":0.03,"v":3750e-5},{"s":"60 um","t":0.031,"v":3875e-5},{"s":"60 um","t":0.032,"v":4000e-5},{"s":"60 um","t":0.033,"v":4125e-5},{"s":"60 um","t":0.034,"v":4250e-5},{"s":"60 um","t":0.035,"v":4375e-5},{"s":"60 um","t":0.036,"v":4500e-5},{"s":"60 um","t":0.037,"v":4625e-5},{"s":"60 um","t":0.038,"v":4750e-5},{"s":"60 um","t":0.039,"v":4875e-5},{"s":"60 um","t":0.04,"v":5000e-5},{"s":"60 um","t":0.041,"v":5125e-5},{"s":"60 um","t":0.042,"v":5250e-5},{"s":"60 um","t":0.043,"v":5375e-5},{"s":"60 um","t":0.044,"v":5500e-5},{"s":"60 um","t":0.045,"v":5625e-5},{"s":"60 um","t":0.046,"v":5750e-5},{"s":"60 um","t":0.047,"v":5875e-5},{"s":"60 um","t":0.048,"v":6000e-5},{"s":"60 um","t":0.049,"v":6125e-5},{"s":"60 um","t":0.05,"v":6250e-5},
{"s":"75 um","t":0.001,"v":76e-5},{"s":"75 um","t":0.002,"v":152e-5},{"s":"75 um","t":0.003,"v":228e-5},{"s":"75 um","t":0.004,"v":304e-5},{"s":"75 um","t":0.005,"v":380e-5},{"s":"75 um","t":0.006,"v":456e-5},{"s":"75 um","t":0.007,"v":532e-5},{"s":"75 um","t":0.008,"v":608e-5},{"s":"75 um","t":0.009,"v":684e-5},{"s":"75 um","t":0.01,"v":760e-5},{"s":"75 um","t":0.011,"v":836e-5},{"s":"75 um","t":0.012,"v":912e-5},{"s":"75 um","t":0.013,"v":988e-5},{"s":"75 um","t":0.014,"v":1064e-5},{"s":"75 um","t":0.015,"v":1140e-5},{"s":"75 um","t":0.016,"v":1216e-5},{"s":"75 um","t":0.017,"v":1292e-5},{"s":"75 um","t":0.018,"v":1368e-5},{"s":"75 um","t":0.019,"v":1444e-5},{"s":"75 um","t":0.02,"v":1520e-5},{"s":"75 um","t":0.021,"v":1596e-5},{"s":"75 um","t":0.022,"v":1672e-5},{"s":"75 um","t":0.023,"v":1748e-5},{"s":"75 um","t":0.024,"v":1824e-5},{"s":"75 um","t":0.025,"v":1900e-5},{"s":"75 um","t":0.026,"v":1976e-5},{"s":"75 um","t":0.027,"v":2052e-5},{"s":"75 um","t":0.028,"v":2128e-5},{"s":"75 um","t":0.029,"v":2204e-5},{"s":"75 um","t":0.03,"v":2280e-5},{"s":"75 um","t":0.031,"v":2356e-5},{"s":"75 um","t":0.032,"v":2432e-5},{"s":"75 um","t":0.033,"v":2508e-5},{"s":"75 um","t":0.034,"v":2584e-5},{"s":"75 um","t":0.035,"v":2660e-5},{"s":"75 um","t":0.036,"v":2736e-5},{"s":"75 um","t":0.037,"v":2812e-5},{"s":"75 um","t":0.038,"v":2888e-5},{"s":"75 um","t":0.039,"v":2964e-5},{"s":"75 um","t":0.04,"v":3040e-5},{"s":"75 um","t":0.041,"v":3116e-5},{"s":"75 um","t":0.042,"v":3192e-5},{"s":"75 um","t":0.043,"v":3268e-5},{"s":"75 um","t":0.044,"v":3344e-5},{"s":"75 um","t":0.045,"v":3420e-5},{"s":"75 um","t":0.046,"v":3496e-5},{"s":"75 um","t":0.047,"v":3572e-5},{"s":"75 um","t":0.048,"v":3648e-5},{"s":"75 um","t":0.049,"v":3724e-5},{"s":"75 um","t":0.05,"v":3800e-5},
{"s":"100 um","t":0.001,"v":47e-5},{"s":"100 um","t":0.002,"v":94e-5},{"s":"100 um","t":0.003,"v":141e-5},{"s":"100 um","t":0.004,"v":188e-5},{"s":"100 um","t":0.005,"v":235e-5},{"s":"100 um","t":0.006,"v":282e-5},{"s":"100 um","t":0.007,"v":329e-5},{"s":"100 um","t":0.008,"v":376e-5},{"s":"100 um","t":0.009,"v":423e-5},{"s":"100 um","t":0.01,"v":470e-5},{"s":"100 um","t":0.011,"v":517e-5},{"s":"100 um","t":0.012,"v":564e-5},{"s":"100 um","t":0.013,"v":611e-5},{"s":"100 um","t":0.014,"v":658e-5},{"s":"100 um","t":0.015,"v":705e-5},{"s":"100 um","t":0.016,"v":752e-5},{"s":"100 um","t":0.017,"v":799e-5},{"s":"100 um","t":0.018,"v":846e-5},{"s":"100 um","t":0.019,"v":893e-5},{"s":"100 um","t":0.02,"v":940e-5},{"s":"100 um","t":0.021,"v":987e-5},{"s":"100 um","t":0.022,"v":1034e-5},{"s":"100 um","t":0.023,"v":1081e-5},{"s":"100 um","t":0.024,"v":1128e-5},{"s":"100 um","t":0.025,"v":1175e-5},{"s":"100 um","t":0.026,"v":1222e-5},{"s":"100 um","t":0.027,"v":1269e-5},{"s":"100 um","t":0.028,"v":1316e-5},{"s":"100 um","t":0.029,"v":1363e-5},{"s":"100 um","t":0.03,"v":1410e-5},{"s":"100 um","t":0.031,"v":1457e-5},{"s":"100 um","t":0.032,"v":1504e-5},{"s":"100 um","t":0.033,"v":1551e-5},{"s":"100 um","t":0.034,"v":1598e-5},{"s":"100 um","t":0.035,"v":1645e-5},{"s":"100 um","t":0.036,"v":1692e-5},{"s":"100 um","t":0.037,"v":1739e-5},{"s":"100 um","t":0.038,"v":1786e-5},{"s":"100 um","t":0.039,"v":1833e-5},{"s":"100 um","t":0.04,"v":1880e-5},{"s":"100 um","t":0.041,"v":1927e-5},{"s":"100 um","t":0.042,"v":1974e-5},{"s":"100 um","t":0.043,"v":2021e-5},{"s":"100 um","t":0.044,"v":2068e-5},{"s":"100 um","t":0.045,"v":2115e-5},{"s":"100 um","t":0.046,"v":2162e-5},{"s":"100 um","t":0.047,"v":2209e-5},{"s":"100 um","t":0.048,"v":2256e-5},{"s":"100 um","t":0.049,"v":2303e-5},{"s":"100 um","t":0.05,"v":2350e-5},
{"s":"150 um","t":0.001,"v":27e-5},{"s":"150 um","t":0.002,"v":54e-5},{"s":"150 um","t":0.003,"v":81e-5},{"s":"150 um","t":0.004,"v":108e-5},{"s":"150 um","t":0.005,"v":135e-5},{"s":"150 um","t":0.006,"v":162e-5},{"s":"150 um","t":0.007,"v":189e-5},{"s":"150 um","t":0.008,"v":216e-5},{"s":"150 um","t":0.009,"v":243e-5},{"s":"150 um","t":0.01,"v":270e-5},{"s":"150 um","t":0.011,"v":297e-5},{"s":"150 um","t":0.012,"v":324e-5},{"s":"150 um","t":0.013,"v":351e-5},{"s":"150 um","t":0.014,"v":378e-5},{"s":"150 um","t":0.015,"v":405e-5},{"s":"150 um","t":0.016,"v":432e-5},{"s":"150 um","t":0.017,"v":459e-5},{"s":"150 um","t":0.018,"v":486e-5},{"s":"150 um","t":0.019,"v":513e-5},{"s":"150 um","t":0.02,"v":540e-5},{"s":"150 um","t":0.021,"v":567e-5},{"s":"150 um","t":0.022,"v":594e-5},{"s":"150 um","t":0.023,"v":621e-5},{"s":"150 um","t":0.024,"v":648e-5},{"s":"150 um","t":0.025,"v":675e-5},{"s":"150 um","t":0.026,"v":702e-5},{"s":"150 um","t":0.027,"v":729e-5},{"s":"150 um","t":0.028,"v":756e-5},{"s":"150 um","t":0.029,"v":783e-5},{"s":"150 um","t":0.03,"v":810e-5},{"s":"150 um","t":0.031,"v":837e-5},{"s":"150 um","t":0.032,"v":864e-5},{"s":"150 um","t":0.033,"v":891e-5},{"s":"150 um","t":0.034,"v":918e-5},{"s":"150 um","t":0.035,"v":945e-5},{"s":"150 um","t":0.036,"v":972e-5},{"s":"150 um","t":0.037,"v":999e-5},{"s":"150 um","t":0.038,"v":1026e-5},{"s":"150 um","t":0.039,"v":1053e-5},{"s":"150 um","t":0.04,"v":1080e-5},{"s":"150 um","t":0.041,"v":1107e-5},{"s":"150 um","t":0.042,"v":1134e-5},{"s":"150 um","t":0.043,"v":1161e-5},{"s":"150 um","t":0.044,"v":1188e-5},{"s":"150 um","t":0.045,"v":1215e-5},{"s":"150 um","t":0.046,"v":1242e-5},{"s":"150 um","t":0.047,"v":1269e-5},{"s":"150 um","t":0.048,"v":1296e-5},{"s":"150 um","t":0.049,"v":1323e-5},{"s":"150 um","t":0.05,"v":1350e-5},
{"s":"200 um","t":0.001,"v":76e-6},{"s":"200 um","t":0.002,"v":152e-6},{"s":"200 um","t":0.003,"v":228e-6},{"s":"200 um","t":0.004,"v":304e-6},{"s":"200 um","t":0.005,"v":380e-6},{"s":"200 um","t":0.006,"v":456e-6},{"s":"200 um","t":0.007,"v":532e-6},{"s":"200 um","t":0.008,"v":608e-6},{"s":"200 um","t":0.009,"v":684e-6},{"s":"200 um","t":0.01,"v":760e-6},{"s":"200 um","t":0.011,"v":836e-6},{"s":"200 um","t":0.012,"v":912e-6},{"s":"200 um","t":0.013,"v":988e-6},{"s":"200 um","t":0.014,"v":1064e-6},{"s":"200 um","t":0.015,"v":1140e-6},{"s":"200 um","t":0.016,"v":1216e-6},{"s":"200 um","t":0.017,"v":1292e-6},{"s":"200 um","t":0.018,"v":1368e-6},{"s":"200 um","t":0.019,"v":1444e-6},{"s":"200 um","t":0.02,"v":1520e-6},{"s":"200 um","t":0.021,"v":1596e-6},{"s":"200 um","t":0.022,"v":1672e-6},{"s":"200 um","t":0.023,"v":1748e-6},{"s":"200 um","t":0.024,"v":1824e-6},{"s":"200 um","t":0.025,"v":1900e-6},{"s":"200 um","t":0.026,"v":1976e-6},{"s":"200 um","t":0.027,"v":2052e-6},{"s":"200 um","t":0.028,"v":2128e-6},{"s":"200 um","t":0.029,"v":2204e-6},{"s":"200 um","t":0.03,"v":2280e-6},{"s":"200 um","t":0.031,"v":2356e-6},{"s":"200 um","t":0.032,"v":2432e-6},{"s":"200 um","t":0.033,"v":2508e-6},{"s":"200 um","t":0.034,"v":2584e-6},{"s":"200 um","t":0.035,"v":2660e-6},{"s":"200 um","t":0.036,"v":2736e-6},{"s":"200 um","t":0.037,"v":2812e-6},{"s":"200 um","t":0.038,"v":2888e-6},{"s":"200 um","t":0.039,"v":2964e-6},{"s":"200 um","t":0.04,"v":3040e-6},{"s":"200 um","t":0.041,"v":3116e-6},{"s":"200 um","t":0.042,"v":3192e-6},{"s":"200 um","t":0.043,"v":3268e-6},{"s":"200 um","t":0.044,"v":3344e-6},{"s":"200 um","t":0.045,"v":3420e-6},{"s":"200 um","t":0.046,"v":3496e-6},{"s":"200 um","t":0.047,"v":3572e-6},{"s":"200 um","t":0.048,"v":3648e-6},{"s":"200 um","t":0.049,"v":3724e-6},{"s":"200 um","t":0.05,"v":3800e-6},
{"s":"250 um","t":0.001,"v":25e-6},{"s":"250 um","t":0.002,"v":50e-6},{"s":"250 um","t":0.003,"v":75e-6},{"s":"250 um","t":0.004,"v":100e-6},{"s":"250 um","t":0.005,"v":125e-6},{"s":"250 um","t":0.006,"v":150e-6},{"s":"250 um","t":0.007,"v":175e-6},{"s":"250 um","t":0.008,"v":200e-6},{"s":"250 um","t":0.009,"v":225e-6},{"s":"250 um","t":0.01,"v":250e-6},{"s":"250 um","t":0.011,"v":275e-6},{"s":"250 um","t":0.012,"v":300e-6},{"s":"250 um","t":0.013,"v":325e-6},{"s":"250 um","t":0.014,"v":350e-6},{"s":"250 um","t":0.015,"v":375e-6},{"s":"250 um","t":0.016,"v":400e-6},{"s":"250 um","t":0.017,"v":425e-6},{"s":"250 um","t":0.018,"v":450e-6},{"s":"250 um","t":0.019,"v":475e-6},{"s":"250 um","t":0.02,"v":500e-6},{"s":"250 um","t":0.021,"v":525e-6},{"s":"250 um","t":0.022,"v":550e-6},{"s":"250 um","t":0.023,"v":575e-6},{"s":"250 um","t":0.024,"v":600e-6},{"s":"250 um","t":0.025,"v":625e-6},{"s":"250 um","t":0.026,"v":650e-6},{"s":"250 um","t":0.027,"v":675e-6},{"s":"250 um","t":0.028,"v":700e-6},{"s":"250 um","t":0.029,"v":725e-6},{"s":"250 um","t":0.03,"v":750e-6},{"s":"250 um","t":0.031,"v":775e-6},{"s":"250 um","t":0.032,"v":800e-6},{"s":"250 um","t":0.033,"v":825e-6},{"s":"250 um","t":0.034,"v":850e-6},{"s":"250 um","t":0.035,"v":875e-6},{"s":"250 um","t":0.036,"v":900e-6},{"s":"250 um","t":0.037,"v":925e-6},{"s":"250 um","t":0.038,"v":950e-6},{"s":"250 um","t":0.039,"v":975e-6},{"s":"250 um","t":0.04,"v":1000e-6},{"s":"250 um","t":0.041,"v":1025e-6},{"s":"250 um","t":0.042,"v":1050e-6},{"s":"250 um","t":0.043,"v":1075e-6},{"s":"250 um","t":0.044,"v":1100e-6},{"s":"250 um","t":0.045,"v":1125e-6},{"s":"250 um","t":0.046,"v":1150e-6},{"s":"250 um","t":0.047,"v":1175e-6},{"s":"250 um","t":0.048,"v":1200e-6},{"s":"250 um","t":0.049,"v":1225e-6},{"s":"250 um","t":0.05,"v":1250e-6},
{"s":"300 um","t":0.001,"v":11e-6},{"s":"300 um","t":0.002,"v":22e-6},{"s":"300 um","t":0.003,"v":33e-6},{"s":"300 um","t":0.004,"v":44e-6},{"s":"300 um","t":0.005,"v":55e-6},{"s":"300 um","t":0.006,"v":66e-6},{"s":"300 um","t":0.007,"v":77e-6},{"s":"300 um","t":0.008,"v":88e-6},{"s":"300 um","t":0.009,"v":99e-6},{"s":"300 um","t":0.01,"v":110e-6},{"s":"300 um","t":0.011,"v":121e-6},{"s":"300 um","t":0.012,"v":132e-6},{"s":"300 um","t":0.013,"v":143e-6},{"s":"300 um","t":0.014,"v":154e-6},{"s":"300 um","t":0.015,"v":165e-6},{"s":"300 um","t":0.016,"v":176e-6},{"s":"300 um","t":0.017,"v":187e-6},{"s":"300 um","t":0.018,"v":198e-6},{"s":"300 um","t":0.019,"v":209e-6},{"s":"300 um","t":0.02,"v":220e-6},{"s":"300 um","t":0.021,"v":231e-6},{"s":"300 um","t":0.022,"v":242e-6},{"s":"300 um","t":0.023,"v":253e-6},{"s":"300 um","t":0.024,"v":264e-6},{"s":"300 um","t":0.025,"v":275e-6},{"s":"300 um","t":0.026,"v":286e-6},{"s":"300 um","t":0.027,"v":297e-6},{"s":"300 um","t":0.028,"v":308e-6},{"s":"300 um","t":0.029,"v":319e-6},{"s":"300 um","t":0.03,"v":330e-6},{"s":"300 um","t":0.031,"v":341e-6},{"s":"300 um","t":0.032,"v":352e-6},{"s":"300 um","t":0.033,"v":363e-6},{"s":"300 um","t":0.034,"v":374e-6},{"s":"300 um","t":0.035,"v":385e-6},{"s":"300 um","t":0.036,"v":396e-6},{"s":"300 um","t":0.037,"v":407e-6},{"s":"300 um","t":0.038,"v":418e-6},{"s":"300 um","t":0.039,"v":429e-6},{"s":"300 um","t":0.04,"v":440e-6},{"s":"300 um","t":0.041,"v":451e-6},{"s":"300 um","t":0.042,"v":462e-6},{"s":"300 um","t":0.043,"v":473e-6},{"s":"300 um","t":0.044,"v":484e-6},{"s":"300 um","t":0.045,"v":495e-6},{"s":"300 um","t":0.046,"v":506e-6},{"s":"300 um","t":0.047,"v":517e-6},{"s":"300 um","t":0.048,"v":528e-6},{"s":"300 um","t":0.049,"v":539e-6},{"s":"300 um","t":0.05,"v":550e-6},
{"s":"350 um","t":0.001,"v":94e-7},{"s":"350 um","t":0.002,"v":188e-7},{"s":"350 um","t":0.003,"v":282e-7},{"s":"350 um","t":0.004,"v":376e-7},{"s":"350 um","t":0.005,"v":470e-7},{"s":"350 um","t":0.006,"v":564e-7},{"s":"350 um","t":0.007,"v":658e-7},{"s":"350 um","t":0.008,"v":752e-7},{"s":"350 um","t":0.009,"v":846e-7},{"s":"350 um","t":0.01,"v":940e-7},{"s":"350 um","t":0.011,"v":1034e-7},{"s":"350 um","t":0.012,"v":1128e-7},{"s":"350 um","t":0.013,"v":1222e-7},{"s":"350 um","t":0.014,"v":1316e-7},{"s":"350 um","t":0.015,"v":1410e-7},{"s":"350 um","t":0.016,"v":1504e-7},{"s":"350 um","t":0.017,"v":1598e-7},{"s":"350 um","t":0.018,"v":1692e-7},{"s":"350 um","t":0.019,"v":1786e-7},{"s":"350 um","t":0.02,"v":1880e-7},{"s":"350 um","t":0.021,"v":1974e-7},{"s":"350 um","t":0.022,"v":2068e-7},{"s":"350 um","t":0.023,"v":2162e-7},{"s":"350 um","t":0.024,"v":2256e-7},{"s":"350 um","t":0.025,"v":2350e-7},{"s":"350 um","t":0.026,"v":2444e-7},{"s":"350 um","t":0.027,"v":2538e-7},{"s":"350 um","t":0.028,"v":2632e-7},{"s":"350 um","t":0.029,"v":2726e-7},{"s":"350 um","t":0.03,"v":2820e-7},{"s":"350 um","t":0.031,"v":2914e-7},{"s":"350 um","t":0.032,"v":3008e-7},{"s":"350 um","t":0.033,"v":3102e-7},{"s":"350 um","t":0.034,"v":3196e-7},{"s":"350 um","t":0.035,"v":3290e-7},{"s":"350 um","t":0.036,"v":3384e-7},{"s":"350 um","t":0.037,"v":3478e-7},{"s":"350 um","t":0.038,"v":3572e-7},{"s":"350 um","t":0.039,"v":3666e-7},{"s":"350 um","t":0.04,"v":3760e-7},{"s":"350 um","t":0.041,"v":3854e-7},{"s":"350 um","t":0.042,"v":3948e-7},{"s":"350 um","t":0.043,"v":4042e-7},{"s":"350 um","t":0.044,"v":4136e-7},{"s":"350 um","t":0.045,"v":4230e-7},{"s":"350 um","t":0.046,"v":4324e-7},{"s":"350 um","t":0.047,"v":4418e-7},{"s":"350 um","t":0.048,"v":4512e-7},{"s":"350 um","t":0.049,"v":4606e-7},{"s":"350 um","t":0.05,"v":4700e-7},
{"s":"400 um","t":0.001,"v":7e-6},{"s":"400 um","t":0.002,"v":14e-6},{"s":"400 um","t":0.003,"v":21e-6},{"s":"400 um","t":0.004,"v":28e-6},{"s":"400 um","t":0.005,"v":35e-6},{"s":"400 um","t":0.006,"v":42e-6},{"s":"400 um","t":0.007,"v":49e-6},{"s":"400 um","t":0.008,"v":56e-6},{"s":"400 um","t":0.009,"v":63e-6},{"s":"400 um","t":0.01,"v":70e-6},{"s":"400 um","t":0.011,"v":77e-6},{"s":"400 um","t":0.012,"v":84e-6},{"s":"400 um","t":0.013,"v":91e-6},{"s":"400 um","t":0.014,"v":98e-6},{"s":"400 um","t":0.015,"v":105e-6},{"s":"400 um","t":0.016,"v":112e-6},{"s":"400 um","t":0.017,"v":119e-6},{"s":"400 um","t":0.018,"v":126e-6},{"s":"400 um","t":0.019,"v":133e-6},{"s":"400 um","t":0.02,"v":140e-6},{"s":"400 um","t":0.021,"v":147e-6},{"s":"400 um","t":0.022,"v":154e-6},{"s":"400 um","t":0.023,"v":161e-6},{"s":"400 um","t":0.024,"v":168e-6},{"s":"400 um","t":0.025,"v":175e-6},{"s":"400 um","t":0.026,"v":182e-6},{"s":"400 um","t":0.027,"v":189e-6},{"s":"400 um","t":0.028,"v":196e-6},{"s":"400 um","t":0.029,"v":203e-6},{"s":"400 um","t":0.03,"v":210e-6},{"s":"400 um","t":0.031,"v":217e-6},{"s":"400 um","t":0.032,"v":224e-6},{"s":"400 um","t":0.033,"v":231e-6},{"s":"400 um","t":0.034,"v":238e-6},{"s":"400 um","t":0.035,"v":245e-6},{"s":"400 um","t":0.036,"v":252e-6},{"s":"400 um","t":0.037,"v":259e-6},{"s":"400 um","t":0.038,"v":266e-6},{"s":"400 um","t":0.039,"v":273e-6},{"s":"400 um","t":0.04,"v":280e-6},{"s":"400 um","t":0.041,"v":287e-6},{"s":"400 um","t":0.042,"v":294e-6},{"s":"400 um","t":0.043,"v":301e-6},{"s":"400 um","t":0.044,"v":308e-6},{"s":"400 um","t":0.045,"v":315e-6},{"s":"400 um","t":0.046,"v":322e-6},{"s":"400 um","t":0.047,"v":329e-6},{"s":"400 um","t":0.048,"v":336e-6},{"s":"400 um","t":0.049,"v":343e-6},{"s":"400 um","t":0.05,"v":350e-6},
{"s":"500 um","t":0.001,"v":13e-6},{"s":"500 um","t":0.002,"v":26e-6},{"s":"500 um","t":0.003,"v":39e-6},{"s":"500 um","t":0.004,"v":52e-6},{"s":"500 um","t":0.005,"v":65e-6},{"s":"500 um","t":0.006,"v":78e-6},{"s":"500 um","t":0.007,"v":91e-6},{"s":"500 um","t":0.008,"v":104e-6},{"s":"500 um","t":0.009,"v":117e-6},{"s":"500 um","t":0.01,"v":130e-6},{"s":"500 um","t":0.011,"v":143e-6},{"s":"500 um","t":0.012,"v":156e-6},{"s":"500 um","t":0.013,"v":169e-6},{"s":"500 um","t":0.014,"v":182e-6},{"s":"500 um","t":0.015,"v":195e-6},{"s":"500 um","t":0.016,"v":208e-6},{"s":"500 um","t":0.017,"v":221e-6},{"s":"500 um","t":0.018,"v":234e-6},{"s":"500 um","t":0.019,"v":247e-6},{"s":"500 um","t":0.02,"v":260e-6},{"s":"500 um","t":0.021,"v":273e-6},{"s":"500 um","t":0.022,"v":286e-6},{"s":"500 um","t":0.023,"v":299e-6},{"s":"500 um","t":0.024,"v":312e-6},{"s":"500 um","t":0.025,"v":325e-6},{"s":"500 um","t":0.026,"v":338e-6},{"s":"500 um","t":0.027,"v":351e-6},{"s":"500 um","t":0.028,"v":364e-6},{"s":"500 um","t":0.029,"v":377e-6},{"s":"500 um","t":0.03,"v":390e-6},{"s":"500 um","t":0.031,"v":403e-6},{"s":"500 um","t":0.032,"v":416e-6},{"s":"500 um","t":0.033,"v":429e-6},{"s":"500 um","t":0.034,"v":442e-6},{"s":"500 um","t":0.035,"v":455e-6},{"s":"500 um","t":0.036,"v":468e-6},{"s":"500 um","t":0.037,"v":481e-6},{"s":"500 um","t":0.038,"v":494e-6},{"s":"500 um","t":0.039,"v":507e-6},{"s":"500 um","t":0.04,"v":520e-6},{"s":"500 um","t":0.041,"v":533e-6},{"s":"500 um","t":0.042,"v":546e-6},{"s":"500 um","t":0.043,"v":559e-6},{"s":"500 um","t":0.044,"v":572e-6},{"s":"500 um","t":0.045,"v":585e-6},{"s":"500 um","t":0.046,"v":598e-6},{"s":"500 um","t":0.047,"v":611e-6},{"s":"500 um","t":0.048,"v":624e-6},{"s":"500 um","t":0.049,"v":637e-6},{"s":"500 um","t":0.05,"v":650e-6},
{"s":"600 um","t":0.001,"v":82e-7},{"s":"600 um","t":0.002,"v":164e-7},{"s":"600 um","t":0.003,"v":246e-7},{"s":"600 um","t":0.004,"v":328e-7},{"s":"600 um","t":0.005,"v":410e-7},{"s":"600 um","t":0.006,"v":492e-7},{"s":"600 um","t":0.007,"v":574e-7},{"s":"600 um","t":0.008,"v":656e-7},{"s":"600 um","t":0.009,"v":738e-7},{"s":"600 um","t":0.01,"v":820e-7},{"s":"600 um","t":0.011,"v":902e-7},{"s":"600 um","t":0.012,"v":984e-7},{"s":"600 um","t":0.013,"v":1066e-7},{"s":"600 um","t":0.014,"v":1148e-7},{"s":"600 um","t":0.015,"v":1230e-7},{"s":"600 um","t":0.016,"v":1312e-7},{"s":"600 um","t":0.017,"v":1394e-7},{"s":"600 um","t":0.018,"v":1476e-7},{"s":"600 um","t":0.019,"v":1558e-7},{"s":"600 um","t":0.02,"v":1640e-7},{"s":"600 um","t":0.021,"v":1722e-7},{"s":"600 um","t":0.022,"v":1804e-7},{"s":"600 um","t":0.023,"v":1886e-7},{"s":"600 um","t":0.024,"v":1968e-7},{"s":"600 um","t":0.025,"v":2050e-7},{"s":"600 um","t":0.026,"v":2132e-7},{"s":"600 um","t":0.027,"v":2214e-7},{"s":"600 um","t":0.028,"v":2296e-7},{"s":"600 um","t":0.029,"v":2378e-7},{"s":"600 um","t":0.03,"v":2460e-7},{"s":"600 um","t":0.031,"v":2542e-7},{"s":"600 um","t":0.032,"v":2624e-7},{"s":"600 um","t":0.033,"v":2706e-7},{"s":"600 um","t":0.034,"v":2788e-7},{"s":"600 um","t":0.035,"v":2870e-7},{"s":"600 um","t":0.036,"v":2952e-7},{"s":"600 um","t":0.037,"v":3034e-7},{"s":"600 um","t":0.038,"v":3116e-7},{"s":"600 um","t":0.039,"v":3198e-7},{"s":"600 um","t":0.04,"v":3280e-7},{"s":"600 um","t":0.041,"v":3362e-7},{"s":"600 um","t":0.042,"v":3444e-7},{"s":"600 um","t":0.043,"v":3526e-7},{"s":"600 um","t":0.044,"v":3608e-7},{"s":"600 um","t":0.045,"v":3690e-7},{"s":"600 um","t":0.046,"v":3772e-7},{"s":"600 um","t":0.047,"v":3854e-7},{"s":"600 um","t":0.048,"v":3936e-7},{"s":"600 um","t":0.049,"v":4018e-7},{"s":"600 um","t":0.05,"v":4100e-7},
{"s":"800 um","t":0.001,"v":78e-7},{"s":"800 um","t":0.002,"v":156e-7},{"s":"800 um","t":0.003,"v":234e-7},{"s":"800 um","t":0.004,"v":312e-7},{"s":"800 um","t":0.005,"v":390e-7},{"s":"800 um","t":0.006,"v":468e-7},{"s":"800 um","t":0.007,"v":546e-7},{"s":"800 um","t":0.008,"v":624e-7},{"s":"800 um","t":0.009,"v":702e-7},{"s":"800 um","t":0.01,"v":780e-7},{"s":"800 um","t":0.011,"v":858e-7},{"s":"800 um","t":0.012,"v":936e-7},{"s":"800 um","t":0.013,"v":1014e-7},{"s":"800 um","t":0.014,"v":1092e-7},{"s":"800 um","t":0.015,"v":1170e-7},{"s":"800 um","t":0.016,"v":1248e-7},{"s":"800 um","t":0.017,"v":1326e-7},{"s":"800 um","t":0.018,"v":1404e-7},{"s":"800 um","t":0.019,"v":1482e-7},{"s":"800 um","t":0.02,"v":1560e-7},{"s":"800 um","t":0.021,"v":1638e-7},{"s":"800 um","t":0.022,"v":1716e-7},{"s":"800 um","t":0.023,"v":1794e-7},{"s":"800 um","t":0.024,"v":1872e-7},{"s":"800 um","t":0.025,"v":1950e-7},{"s":"800 um","t":0.026,"v":2028e-7},{"s":"800 um","t":0.027,"v":2106e-7},{"s":"800 um","t":0.028,"v":2184e-7},{"s":"800 um","t":0.029,"v":2262e-7},{"s":"800 um","t":0.03,"v":2340e-7},{"s":"800 um","t":0.031,"v":2418e-7},{"s":"800 um","t":0.032,"v":2496e-7},{"s":"800 um","t":0.033,"v":2574e-7},{"s":"800 um","t":0.034,"v":2652e-7},{"s":"800 um","t":0.035,"v":2730e-7},{"s":"800 um","t":0.036,"v":2808e-7},{"s":"800 um","t":0.037,"v":2886e-7},{"s":"800 um","t":0.038,"v":2964e-7},{"s":"800 um","t":0.039,"v":3042e-7},{"s":"800 um","t":0.04,"v":3120e-7},{"s":"800 um","t":0.041,"v":3198e-7},{"s":"800 um","t":0.042,"v":3276e-7},{"s":"800 um","t":0.043,"v":3354e-7},{"s":"800 um","t":0.044,"v":3432e-7},{"s":"800 um","t":0.045,"v":3510e-7},{"s":"800 um","t":0.046,"v":3588e-7},{"s":"800 um","t":0.047,"v":3666e-7},{"s":"800 um","t":0.048,"v":3744e-7},{"s":"800 um","t":0.049,"v":3822e-7},{"s":"800 um","t":0.05,"v":3900e-7},
{"s":"1000 um","t":0.001,"v":32e-7},{"s":"1000 um","t":0.002,"v":64e-7},{"s":"1000 um","t":0.003,"v":96e-7},{"s":"1000 um","t":0.004,"v":128e-7},{"s":"1000 um","t":0.005,"v":160e-7},{"s":"1000 um","t":0.006,"v":192e-7},{"s":"1000 um","t":0.007,"v":224e-7},{"s":"1000 um","t":0.008,"v":256e-7},{"s":"1000 um","t":0.009,"v":288e-7},{"s":"1000 um","t":0.01,"v":320e-7},{"s":"1000 um","t":0.011,"v":352e-7},{"s":"1000 um","t":0.012,"v":384e-7},{"s":"1000 um","t":0.013,"v":416e-7},{"s":"1000 um","t":0.014,"v":448e-7},{"s":"1000 um","t":0.015,"v":480e-7},{"s":"1000 um","t":0.016,"v":512e-7},{"s":"1000 um","t":0.017,"v":544e-7},{"s":"1000 um","t":0.018,"v":576e-7},{"s":"1000 um","t":0.019,"v":608e-7},{"s":"1000 um","t":0.02,"v":640e-7},{"s":"1000 um","t":0.021,"v":672e-7},{"s":"1000 um","t":0.022,"v":704e-7},{"s":"1000 um","t":0.023,"v":736e-7},{"s":"1000 um","t":0.024,"v":768e-7},{"s":"1000 um","t":0.025,"v":800e-7},{"s":"1000 um","t":0.026,"v":832e-7},{"s":"1000 um","t":0.027,"v":864e-7},{"s":"1000 um","t":0.028,"v":896e-7},{"s":"1000 um","t":0.029,"v":928e-7},{"s":"1000 um","t":0.03,"v":960e-7},{"s":"1000 um","t":0.031,"v":992e-7},{"s":"1000 um","t":0.032,"v":1024e-7},{"s":"1000 um","t":0.033,"v":1056e-7},{"s":"1000 um","t":0.034,"v":1088e-7},{"s":"1000 um","t":0.035,"v":1120e-7},{"s":"1000 um","t":0.036,"v":1152e-7},{"s":"1000 um","t":0.037,"v":1184e-7},{"s":"1000 um","t":0.038,"v":1216e-7},{"s":"1000 um","t":0.039,"v":1248e-7},{"s":"1000 um","t":0.04,"v":1280e-7},{"s":"1000 um","t":0.041,"v":1312e-7},{"s":"1000 um","t":0.042,"v":1344e-7},{"s":"1000 um","t":0.043,"v":1376e-7},{"s":"1000 um","t":0.044,"v":1408e-7},{"s":"1000 um","t":0.045,"v":1440e-7},{"s":"1000 um","t":0.046,"v":1472e-7},{"s":"1000 um","t":0.047,"v":1504e-7},{"s":"1000 um","t":0.048,"v":1536e-7},{"s":"1000 um","t":0.049,"v":1568e-7},{"s":"1000 um","t":0.05,"v":1600e-7},
{"s":"1200 um","t":0.001,"v":12e-7},{"s":"1200 um","t":0.002,"v":24e-7},{"s":"1200 um","t":0.003,"v":36e-7},{"s":"1200 um","t":0.004,"v":48e-7},{"s":"1200 um","t":0.005,"v":60e-7},{"s":"1200 um","t":0.006,"v":72e-7},{"s":"1200 um","t":0.007,"v":84e-7},{"s":"1200 um","t":0.008,"v":96e-7},{"s":"1200 um","t":0.009,"v":108e-7},{"s":"1200 um","t":0.01,"v":120e-7},{"s":"1200 um","t":0.011,"v":132e-7},{"s":"1200 um","t":0.012,"v":144e-7},{"s":"1200 um","t":0.013,"v":156e-7},{"s":"1200 um","t":0.014,"v":168e-7},{"s":"1200 um","t":0.015,"v":180e-7},{"s":"1200 um","t":0.016,"v":192e-7},{"s":"1200 um","t":0.017,"v":204e-7},{"s":"1200 um","t":0.018,"v":216e-7},{"s":"1200 um","t":0.019,"v":228e-7},{"s":"1200 um","t":0.02,"v":240e-7},{"s":"1200 um","t":0.021,"v":252e-7},{"s":"1200 um","t":0.022,"v":264e-7},{"s":"1200 um","t":0.023,"v":276e-7},{"s":"1200 um","t":0.024,"v":288e-7},{"s":"1200 um","t":0.025,"v":300e-7},{"s":"1200 um","t":0.026,"v":312e-7},{"s":"1200 um","t":0.027,"v":324e-7},{"s":"1200 um","t":0.028,"v":336e-7},{"s":"1200 um","t":0.029,"v":348e-7},{"s":"1200 um","t":0.03,"v":360e-7},{"s":"1200 um","t":0.031,"v":372e-7},{"s":"1200 um","t":0.032,"v":384e-7},{"s":"1200 um","t":0.033,"v":396e-7},{"s":"1200 um","t":0.034,"v":408e-7},{"s":"1200 um","t":0.035,"v":420e-7},{"s":"1200 um","t":0.036,"v":432e-7},{"s":"1200 um","t":0.037,"v":444e-7},{"s":"1200 um","t":0.038,"v":456e-7},{"s":"1200 um","t":0.039,"v":468e-7},{"s":"1200 um","t":0.04,"v":480e-7},{"s":"1200 um","t":0.041,"v":492e-7},{"s":"1200 um","t":0.042,"v":504e-7},{"s":"1200 um","t":0.043,"v":516e-7},{"s":"1200 um","t":0.044,"v":528e-7},{"s":"1200 um","t":0.045,"v":540e-7},{"s":"1200 um","t":0.046,"v":552e-7},{"s":"1200 um","t":0.047,"v":564e-7},{"s":"1200 um","t":0.048,"v":576e-7},{"s":"1200 um","t":0.049,"v":588e-7},{"s":"1200 um","t":0.05,"v":600e-7},
{"s":"1400 um","t":0.001,"v":67e-8},{"s":"1400 um","t":0.002,"v":134e-8},{"s":"1400 um","t":0.003,"v":201e-8},{"s":"1400 um","t":0.004,"v":268e-8},{"s":"1400 um","t":0.005,"v":335e-8},{"s":"1400 um","t":0.006,"v":402e-8},{"s":"1400 um","t":0.007,"v":469e-8},{"s":"1400 um","t":0.008,"v":536e-8},{"s":"1400 um","t":0.009,"v":603e-8},{"s":"1400 um","t":0.01,"v":670e-8},{"s":"1400 um","t":0.011,"v":737e-8},{"s":"1400 um","t":0.012,"v":804e-8},{"s":"1400 um","t":0.013,"v":871e-8},{"s":"1400 um","t":0.014,"v":938e-8},{"s":"1400 um","t":0.015,"v":1005e-8},{"s":"1400 um","t":0.016,"v":1072e-8},{"s":"1400 um","t":0.017,"v":1139e-8},{"s":"1400 um","t":0.018,"v":1206e-8},{"s":"1400 um","t":0.019,"v":1273e-8},{"s":"1400 um","t":0.02,"v":1340e-8},{"s":"1400 um","t":0.021,"v":1407e-8},{"s":"1400 um","t":0.022,"v":1474e-8},{"s":"1400 um","t":0.023,"v":1541e-8},{"s":"1400 um","t":0.024,"v":1608e-8},{"s":"1400 um","t":0.025,"v":1675e-8},{"s":"1400 um","t":0.026,"v":1742e-8},{"s":"1400 um","t":0.027,"v":1809e-8},{"s":"1400 um","t":0.028,"v":1876e-8},{"s":"1400 um","t":0.029,"v":1943e-8},{"s":"1400 um","t":0.03,"v":2010e-8},{"s":"1400 um","t":0.031,"v":2077e-8},{"s":"1400 um","t":0.032,"v":2144e-8},{"s":"1400 um","t":0.033,"v":2211e-8},{"s":"1400 um","t":0.034,"v":2278e-8},{"s":"1400 um","t":0.035,"v":2345e-8},{"s":"1400 um","t":0.036,"v":2412e-8},{"s":"1400 um","t":0.037,"v":2479e-8},{"s":"1400 um","t":0.038,"v":2546e-8},{"s":"1400 um","t":0.039,"v":2613e-8},{"s":"1400 um","t":0.04,"v":2680e-8},{"s":"1400 um","t":0.041,"v":2747e-8},{"s":"1400 um","t":0.042,"v":2814e-8},{"s":"1400 um","t":0.043,"v":2881e-8},{"s":"1400 um","t":0.044,"v":2948e-8},{"s":"1400 um","t":0.045,"v":3015e-8},{"s":"1400 um","t":0.046,"v":3082e-8},{"s":"1400 um","t":0.047,"v":3149e-8},{"s":"1400 um","t":0.048,"v":3216e-8},{"s":"1400 um","t":0.049,"v":3283e-8},{"s":"1400 um","t":0.05,"v":3350e-8},
{"s":"1600 um","t":0.001,"v":32e-8},{"s":"1600 um","t":0.002,"v":64e-8},{"s":"1600 um","t":0.003,"v":96e-8},{"s":"1600 um","t":0.004,"v":128e-8},{"s":"1600 um","t":0.005,"v":160e-8},{"s":"1600 um","t":0.006,"v":192e-8},{"s":"1600 um","t":0.007,"v":224e-8},{"s":"1600 um","t":0.008,"v":256e-8},{"s":"1600 um","t":0.009,"v":288e-8},{"s":"1600 um","t":0.01,"v":320e-8},{"s":"1600 um","t":0.011,"v":352e-8},{"s":"1600 um","t":0.012,"v":384e-8},{"s":"1600 um","t":0.013,"v":416e-8},{"s":"1600 um","t":0.014,"v":448e-8},{"s":"1600 um","t":0.015,"v":480e-8},{"s":"1600 um","t":0.016,"v":512e-8},{"s":"1600 um","t":0.017,"v":544e-8},{"s":"1600 um","t":0.018,"v":576e-8},{"s":"1600 um","t":0.019,"v":608e-8},{"s":"1600 um","t":0.02,"v":640e-8},{"s":"1600 um","t":0.021,"v":672e-8},{"s":"1600 um","t":0.022,"v":704e-8},{"s":"1600 um","t":0.023,"v":736e-8},{"s":"1600 um","t":0.024,"v":768e-8},{"s":"1600 um","t":0.025,"v":800e-8},{"s":"1600 um","t":0.026,"v":832e-8},{"s":"1600 um","t":0.027,"v":864e-8},{"s":"1600 um","t":0.028,"v":896e-8},{"s":"1600 um","t":0.029,"v":928e-8},{"s":"1600 um","t":0.03,"v":960e-8},{"s":"1600 um","t":0.031,"v":992e-8},{"s":"1600 um","t":0.032,"v":1024e-8},{"s":"1600 um","t":0.033,"v":1056e-8},{"s":"1600 um","t":0.034,"v":1088e-8},{"s":"1600 um","t":0.035,"v":1120e-8},{"s":"1600 um","t":0.036,"v":1152e-8},{"s":"1600 um","t":0.037,"v":1184e-8},{"s":"1600 um","t":0.038,"v":1216e-8},{"s":"1600 um","t":0.039,"v":1248e-8},{"s":"1600 um","t":0.04,"v":1280e-8},{"s":"1600 um","t":0.041,"v":1312e-8},{"s":"1600 um","t":0.042,"v":1344e-8},{"s":"1600 um","t":0.043,"v":1376e-8},{"s":"1600 um","t":0.044,"v":1408e-8},{"s":"1600 um","t":0.045,"v":1440e-8},{"s":"1600 um","t":0.046,"v":1472e-8},{"s":"1600 um","t":0.047,"v":1504e-8},{"s":"1600 um","t":0.048,"v":1536e-8},{"s":"1600 um","t":0.049,"v":1568e-8},{"s":"1600 um","t":0.05,"v":1600e-8}
],
"sub":[
{"t":0.001,"v":14e-3},{"t":0.002,"v":28e-3},{"t":0.003,"v":42e-3},{"t":0.004,"v":56e-3},{"t":0.005,"v":70e-3},{"t":0.006,"v":84e-3},{"t":0.007,"v":98e-3},{"t":0.008,"v":112e-3},{"t":0.009,"v":126e-3},{"t":0.01,"v":140e-3},{"t":0.011,"v":154e-3},{"t":0.012,"v":168e-3},{"t":0.013,"v":182e-3},{"t":0.014,"v":196e-3},{"t":0.015,"v":210e-3},{"t":0.016,"v":224e-3},{"t":0.017,"v":238e-3},{"t":0.018,"v":252e-3},{"t":0.019,"v":266e-3},{"t":0.02,"v":280e-3},{"t":0.021,"v":294e-3},{"t":0.022,"v":308e-3},{"t":0.023,"v":322e-3},{"t":0.024,"v":336e-3},{"t":0.025,"v":350e-3},{"t":0.026,"v":364e-3},{"t":0.027,"v":378e-3},{"t":0.028,"v":392e-3},{"t":0.029,"v":406e-3},{"t":0.03,"v":420e-3},{"t":0.031,"v":434e-3},{"t":0.032,"v":448e-3},{"t":0.033,"v":462e-3},{"t":0.034,"v":476e-3},{"t":0.035,"v":490e-3},{"t":0.036,"v":504e-3},{"t":0.037,"v":518e-3},{"t":0.038,"v":532e-3},{"t":0.039,"v":546e-3},{"t":0.04,"v":560e-3},{"t":0.041,"v":574e-3},{"t":0.042,"v":588e-3},{"t":0.043,"v":602e-3},{"t":0.044,"v":616e-3},{"t":0.045,"v":630e-3},{"t":0.046,"v":644e-3},{"t":0.047,"v":658e-3},{"t":0.048,"v":672e-3},{"t":0.049,"v":686e-3},{"t":0.05,"v":700e-3}
]},
"layer":[
{"data":{"name":"main"},"mark":{"type":"line","strokeWidth":1.5,"opacity":0.7},
"encoding":{
"x":{"field":"t","type":"quantitative","scale":{"domain":[0,0.05],"nice":false,"zero":false},"axis":null},
"y":{"field":"v","type":"quantitative","scale":{"type":"log","domain":[1e-7,200],"nice":false},"axis":null},
"color":{"field":"s","type":"nominal","legend":null,"scale":{"domain":["0.004 um","0.008 um","0.015 um","0.030 um","0.064 um","0.500 um","1.0 um","3.0 um","5.0 um","10 um","15 um","20 um","25 um","30 um","45 um","60 um","75 um","100 um","150 um","200 um","250 um","300 um","350 um","400 um","500 um","600 um","800 um","1000 um","1200 um","1400 um","1600 um"],
"range":["#000000","#3050b0","#66c8e0","#58b848","#eeee00","#c060c0","#ff2020","#000000","#3050b0","#66c8e0","#58b848","#eeee00","#c060c0","#ff2020","#000000","#3050b0","#66c8e0","#58b848","#eeee00","#c060c0","#ff2020","#000000","#3050b0","#66c8e0","#58b848","#eeee00","#c060c0","#ff2020","#000000","#3050b0","#66c8e0"]}}}},
{"data":{"name":"main"},"mark":{"type":"point","filled":false,"size":100,"strokeWidth":1.2,"opacity":1},
"encoding":{
"x":{"field":"t","type":"quantitative","axis":{"orient":"bottom","values":[0,0.01,0.02,0.03,0.04,0.05],"labelExpr":"datum.value == 0 ? '0' : format(datum.value, '.2f')","tickSize":-6,"tickWidth":1,"labelFontSize":21,"labelPadding":14,"title":"Time (seconds)","titleFontSize":21,"titlePadding":3}},
"y":{"field":"v","type":"quantitative","axis":{"orient":"left","values":[1e-5,1],"labelExpr":"datum.value == 1 ? '10⁰' : '10⁻⁵'","tickSize":-6,"tickWidth":1,"labelFontSize":25,"labelPadding":7,"title":"Water Mixing Ratio (ppmv)","titleFontSize":21,"titlePadding":-3}},
"color":{"field":"s","type":"nominal","legend":null,"scale":{"domain":["0.004 um","0.008 um","0.015 um","0.030 um","0.064 um","0.500 um","1.0 um","3.0 um","5.0 um","10 um","15 um","20 um","25 um","30 um","45 um","60 um","75 um","100 um","150 um","200 um","250 um","300 um","350 um","400 um","500 um","600 um","800 um","1000 um","1200 um","1400 um","1600 um"],
"range":["#000000","#3050b0","#66c8e0","#58b848","#eeee00","#c060c0","#ff2020","#000000","#3050b0","#66c8e0","#58b848","#eeee00","#c060c0","#ff2020","#000000","#3050b0","#66c8e0","#58b848","#eeee00","#c060c0","#ff2020","#000000","#3050b0","#66c8e0","#58b848","#eeee00","#c060c0","#ff2020","#000000","#3050b0","#66c8e0"]}},
"shape":{"field":"s","type":"nominal","legend":null,"scale":{"domain":["0.004 um","0.008 um","0.015 um","0.030 um","0.064 um","0.500 um","1.0 um","3.0 um","5.0 um","10 um","15 um","20 um","25 um","30 um","45 um","60 um","75 um","100 um","150 um","200 um","250 um","300 um","350 um","400 um","500 um","600 um","800 um","1000 um","1200 um","1400 um","1600 um"],
"range":["M0.25,0A0.25,0.25,0,1,1,-0.25,0A0.25,0.25,0,1,1,0.25,0Z","M0.25,0A0.25,0.25,0,1,1,-0.25,0A0.25,0.25,0,1,1,0.25,0Z","M0.25,0A0.25,0.25,0,1,1,-0.25,0A0.25,0.25,0,1,1,0.25,0Z","M0.25,0A0.25,0.25,0,1,1,-0.25,0A0.25,0.25,0,1,1,0.25,0Z","M0.25,0A0.25,0.25,0,1,1,-0.25,0A0.25,0.25,0,1,1,0.25,0Z","M0.25,0A0.25,0.25,0,1,1,-0.25,0A0.25,0.25,0,1,1,0.25,0Z","M0.25,0A0.25,0.25,0,1,1,-0.25,0A0.25,0.25,0,1,1,0.25,0Z",
"M-0.45,-0.45L0.45,0.45M-0.45,0.45L0.45,-0.45","M-0.45,-0.45L0.45,0.45M-0.45,0.45L0.45,-0.45","M-0.45,-0.45L0.45,0.45M-0.45,0.45L0.45,-0.45","M-0.45,-0.45L0.45,0.45M-0.45,0.45L0.45,-0.45","M-0.45,-0.45L0.45,0.45M-0.45,0.45L0.45,-0.45","M-0.45,-0.45L0.45,0.45M-0.45,0.45L0.45,-0.45","M-0.45,-0.45L0.45,0.45M-0.45,0.45L0.45,-0.45",
"M0.85,0A0.85,0.85,0,1,1,-0.85,0A0.85,0.85,0,1,1,0.85,0Z","M0.85,0A0.85,0.85,0,1,1,-0.85,0A0.85,0.85,0,1,1,0.85,0Z","M0.85,0A0.85,0.85,0,1,1,-0.85,0A0.85,0.85,0,1,1,0.85,0Z","M0.85,0A0.85,0.85,0,1,1,-0.85,0A0.85,0.85,0,1,1,0.85,0Z","M0.85,0A0.85,0.85,0,1,1,-0.85,0A0.85,0.85,0,1,1,0.85,0Z","M0.85,0A0.85,0.85,0,1,1,-0.85,0A0.85,0.85,0,1,1,0.85,0Z","M0.85,0A0.85,0.85,0,1,1,-0.85,0A0.85,0.85,0,1,1,0.85,0Z",
"M-0.5,-0.5H0.5V0.5H-0.5ZM0,-0.75V0.75M-0.75,0H0.75","M-0.5,-0.5H0.5V0.5H-0.5ZM0,-0.75V0.75M-0.75,0H0.75","M-0.5,-0.5H0.5V0.5H-0.5ZM0,-0.75V0.75M-0.75,0H0.75","M-0.5,-0.5H0.5V0.5H-0.5ZM0,-0.75V0.75M-0.75,0H0.75","M-0.5,-0.5H0.5V0.5H-0.5ZM0,-0.75V0.75M-0.75,0H0.75","M-0.5,-0.5H0.5V0.5H-0.5ZM0,-0.75V0.75M-0.75,0H0.75","M-0.5,-0.5H0.5V0.5H-0.5ZM0,-0.75V0.75M-0.75,0H0.75",
"M0,-0.75V0.75M-0.65,-0.375L0.65,0.375M-0.65,0.375L0.65,-0.375M-0.15,0H0.15","M0,-0.75V0.75M-0.65,-0.375L0.65,0.375M-0.65,0.375L0.65,-0.375M-0.15,0H0.15","M0,-0.75V0.75M-0.65,-0.375L0.65,0.375M-0.65,0.375L0.65,-0.375M-0.15,0H0.15"]}}}},
{"data":{"name":"sub"},"mark":{"type":"line","color":"black","strokeWidth":1.5},
"encoding":{"x":{"field":"t","type":"quantitative","axis":null},"y":{"field":"v","type":"quantitative","axis":null}}},
{"data":{"values":[{"v":27.5,"c":"black"},{"v":1.375,"c":"black"},{"v":0.275,"c":"#555555"}]},"mark":{"type":"rule","strokeWidth":1.2},
"encoding":{"y":{"field":"v","type":"quantitative","axis":null},"stroke":{"field":"c","type":"nominal","scale":null,"legend":null}}},
{"data":{"values":[{"t":0.02,"v":1e-7,"v2":100}]},"mark":{"type":"rule","color":"black","strokeWidth":1},
"encoding":{"x":{"field":"t","type":"quantitative","axis":{"orient":"top","values":[0,0.01,0.02,0.03,0.04,0.05],"labels":false,"title":null,"tickSize":-6,"tickWidth":1}},
"y":{"field":"v","type":"quantitative","axis":{"orient":"right","values":[1e-5,1],"labels":false,"title":null,"tickSize":-6,"tickWidth":1}},"y2":{"field":"v2"}}},
{"data":{"values":[{"t":0.02366,"v":92.6,"t2":0.020664,"v2":39.8},{"t":0.02359,"v":4.3,"t2":0.020443,"v2":0.4985}]},"mark":{"type":"rule","color":"black","strokeWidth":1},
"encoding":{"x":{"field":"t","type":"quantitative","axis":null},"y":{"field":"v","type":"quantitative","axis":null},"x2":{"field":"t2"},"y2":{"field":"v2"}}},
{"data":{"values":[{"t":0.020664,"v":39.8}]},"mark":{"type":"point","shape":"M0,-1L0.4,1L-0.4,1Z","filled":true,"color":"black","size":64,"angle":247,"opacity":1},
"encoding":{"x":{"field":"t","type":"quantitative","axis":null},"y":{"field":"v","type":"quantitative","axis":null}}},
{"data":{"values":[{"t":0.020443,"v":0.4985}]},"mark":{"type":"point","shape":"M0,-1L0.4,1L-0.4,1Z","filled":true,"color":"black","size":64,"angle":224,"opacity":1},
"encoding":{"x":{"field":"t","type":"quantitative","axis":null},"y":{"field":"v","type":"quantitative","axis":null}}},
{"data":{"values":[{"t":0.02407,"v":46.9,"txt":"Water Vapor Mixing Ratio In Cloud"},{"t":0.02407,"v":2.18,"txt":"Water From Sublimation"},{"t":0.00878,"v":1.468,"txt":"5%"},{"t":0.00878,"v":0.293,"txt":"1%"}]},
"mark":{"type":"text","align":"left","baseline":"alphabetic","fontSize":18,"font":"Liberation Sans","color":"black"},
"encoding":{"x":{"field":"t","type":"quantitative","axis":null},"y":{"field":"v","type":"quantitative","axis":null},"text":{"field":"txt"}}},
{"data":{"values":[{"t":0.02865,"t2":0.04618,"v":1.83e-5,"v2":2.245e-7}]},"mark":{"type":"rect","fill":"white","stroke":"black","strokeWidth":1},
"encoding":{"x":{"field":"t","type":"quantitative","axis":null},"x2":{"field":"t2"},"y":{"field":"v","type":"quantitative","axis":null},"y2":{"field":"v2"}}},
{"data":{"values":[{"t":0.04672,"t2":0.04962,"v":9.26e-7,"v2":1.545e-7}]},"mark":{"type":"rect","filled":false,"stroke":"black","strokeWidth":1.5},
"encoding":{"x":{"field":"t","type":"quantitative","axis":null},"x2":{"field":"t2"},"y":{"field":"v","type":"quantitative","axis":null},"y2":{"field":"v2"}}},
{"data":{"values":[{"t":0.02883,"v":6.57e-6,"txt":"20020723"},{"t":0.02883,"v":2.36e-6,"txt":"Tamb 205 K, Pamb 147 hPa"},{"t":0.02883,"v":8.49e-7,"txt":"Tduct 220 K, Pduct 165 hPa"},{"t":0.02883,"v":3.16e-7,"txt":"Flow velocity ~50 m/s"}]},
"mark":{"type":"text","align":"left","baseline":"alphabetic","fontSize":18,"font":"Liberation Sans","color":"black"},
"encoding":{"x":{"field":"t","type":"quantitative","axis":null},"y":{"field":"v","type":"quantitative","axis":null},"text":{"field":"txt"}}},
{"data":{"values":[{"t":0.04817,"v":3.69e-7,"txt":"(b)"}]},
"mark":{"type":"text","align":"center","baseline":"middle","fontSize":20,"font":"Liberation Sans","color":"black"},
"encoding":{"x":{"field":"t","type":"quantitative","axis":null},"y":{"field":"v","type":"quantitative","axis":null},"text":{"field":"txt"}}},
{"data":{"name":"main"},"transform":[{"filter":"false"}],"mark":{"type":"point","filled":false,"size":100,"strokeWidth":1.2,"opacity":1},
"encoding":{
"x":{"field":"t","type":"quantitative","axis":null},
"y":{"field":"v","type":"quantitative","axis":null},
"color":{"field":"s","type":"nominal","scale":{"domain":["0.004 um","0.008 um","0.015 um","0.030 um","0.064 um","0.500 um","1.0 um","3.0 um","5.0 um","10 um","15 um","20 um","25 um","30 um","45 um","60 um","75 um","100 um","150 um","200 um","250 um","300 um","350 um","400 um","500 um","600 um","800 um","1000 um","1200 um","1400 um","1600 um"],
"range":["#000000","#3050b0","#66c8e0","#58b848","#eeee00","#c060c0","#ff2020","#000000","#3050b0","#66c8e0","#58b848","#eeee00","#c060c0","#ff2020","#000000","#3050b0","#66c8e0","#58b848","#eeee00","#c060c0","#ff2020","#000000","#3050b0","#66c8e0","#58b848","#eeee00","#c060c0","#ff2020","#000000","#3050b0","#66c8e0"]},
"legend":{"orient":"none","legendX":20,"legendY":-4.5,"title":null,"fillColor":"white","strokeColor":"black","padding":3,"labelFontSize":9,"labelFont":"Liberation Sans","labelColor":"black","rowPadding":1.1,"symbolOffset":15,"labelOffset":13,"symbolSize":100,"symbolStrokeWidth":1.2,"symbolOpacity":1,"symbolLimit":50}},
"shape":{"field":"s","type":"nominal","scale":{"domain":["0.004 um","0.008 um","0.015 um","0.030 um","0.064 um","0.500 um","1.0 um","3.0 um","5.0 um","10 um","15 um","20 um","25 um","30 um","45 um","60 um","75 um","100 um","150 um","200 um","250 um","300 um","350 um","400 um","500 um","600 um","800 um","1000 um","1200 um","1400 um","1600 um"],
"range":["M0.25,0A0.25,0.25,0,1,1,-0.25,0A0.25,0.25,0,1,1,0.25,0ZM-3.3,0H3.3","M0.25,0A0.25,0.25,0,1,1,-0.25,0A0.25,0.25,0,1,1,0.25,0ZM-3.3,0H3.3","M0.25,0A0.25,0.25,0,1,1,-0.25,0A0.25,0.25,0,1,1,0.25,0ZM-3.3,0H3.3","M0.25,0A0.25,0.25,0,1,1,-0.25,0A0.25,0.25,0,1,1,0.25,0ZM-3.3,0H3.3","M0.25,0A0.25,0.25,0,1,1,-0.25,0A0.25,0.25,0,1,1,0.25,0ZM-3.3,0H3.3","M0.25,0A0.25,0.25,0,1,1,-0.25,0A0.25,0.25,0,1,1,0.25,0ZM-3.3,0H3.3","M0.25,0A0.25,0.25,0,1,1,-0.25,0A0.25,0.25,0,1,1,0.25,0ZM-3.3,0H3.3",
"M-0.45,-0.45L0.45,0.45M-0.45,0.45L0.45,-0.45M-3.3,0H3.3","M-0.45,-0.45L0.45,0.45M-0.45,0.45L0.45,-0.45M-3.3,0H3.3","M-0.45,-0.45L0.45,0.45M-0.45,0.45L0.45,-0.45M-3.3,0H3.3","M-0.45,-0.45L0.45,0.45M-0.45,0.45L0.45,-0.45M-3.3,0H3.3","M-0.45,-0.45L0.45,0.45M-0.45,0.45L0.45,-0.45M-3.3,0H3.3","M-0.45,-0.45L0.45,0.45M-0.45,0.45L0.45,-0.45M-3.3,0H3.3","M-0.45,-0.45L0.45,0.45M-0.45,0.45L0.45,-0.45M-3.3,0H3.3",
"M0.85,0A0.85,0.85,0,1,1,-0.85,0A0.85,0.85,0,1,1,0.85,0ZM-3.3,0H-0.85M0.85,0H3.3","M0.85,0A0.85,0.85,0,1,1,-0.85,0A0.85,0.85,0,1,1,0.85,0ZM-3.3,0H-0.85M0.85,0H3.3","M0.85,0A0.85,0.85,0,1,1,-0.85,0A0.85,0.85,0,1,1,0.85,0ZM-3.3,0H-0.85M0.85,0H3.3","M0.85,0A0.85,0.85,0,1,1,-0.85,0A0.85,0.85,0,1,1,0.85,0ZM-3.3,0H-0.85M0.85,0H3.3","M0.85,0A0.85,0.85,0,1,1,-0.85,0A0.85,0.85,0,1,1,0.85,0ZM-3.3,0H-0.85M0.85,0H3.3","M0.85,0A0.85,0.85,0,1,1,-0.85,0A0.85,0.85,0,1,1,0.85,0ZM-3.3,0H-0.85M0.85,0H3.3","M0.85,0A0.85,0.85,0,1,1,-0.85,0A0.85,0.85,0,1,1,0.85,0ZM-3.3,0H-0.85M0.85,0H3.3",
"M-0.5,-0.5H0.5V0.5H-0.5ZM0,-0.75V0.75M-3.3,0H3.3","M-0.5,-0.5H0.5V0.5H-0.5ZM0,-0.75V0.75M-3.3,0H3.3","M-0.5,-0.5H0.5V0.5H-0.5ZM0,-0.75V0.75M-3.3,0H3.3","M-0.5,-0.5H0.5V0.5H-0.5ZM0,-0.75V0.75M-3.3,0H3.3","M-0.5,-0.5H0.5V0.5H-0.5ZM0,-0.75V0.75M-3.3,0H3.3","M-0.5,-0.5H0.5V0.5H-0.5ZM0,-0.75V0.75M-3.3,0H3.3","M-0.5,-0.5H0.5V0.5H-0.5ZM0,-0.75V0.75M-3.3,0H3.3",
"M0,-0.75V0.75M-0.65,-0.375L0.65,0.375M-0.65,0.375L0.65,-0.375M-3.3,0H3.3","M0,-0.75V0.75M-0.65,-0.375L0.65,0.375M-0.65,0.375L0.65,-0.375M-3.3,0H3.3","M0,-0.75V0.75M-0.65,-0.375L0.65,0.375M-0.65,0.375L0.65,-0.375M-3.3,0H3.3"]},
"legend":{"orient":"none","legendX":20,"legendY":-4.5,"title":null,"fillColor":"white","strokeColor":"black","padding":3,"labelFontSize":9,"labelFont":"Liberation Sans","labelColor":"black","rowPadding":1.1,"symbolOffset":15,"labelOffset":13,"symbolSize":100,"symbolStrokeWidth":1.2,"symbolOpacity":1,"symbolLimit":50}}}}
]
}
